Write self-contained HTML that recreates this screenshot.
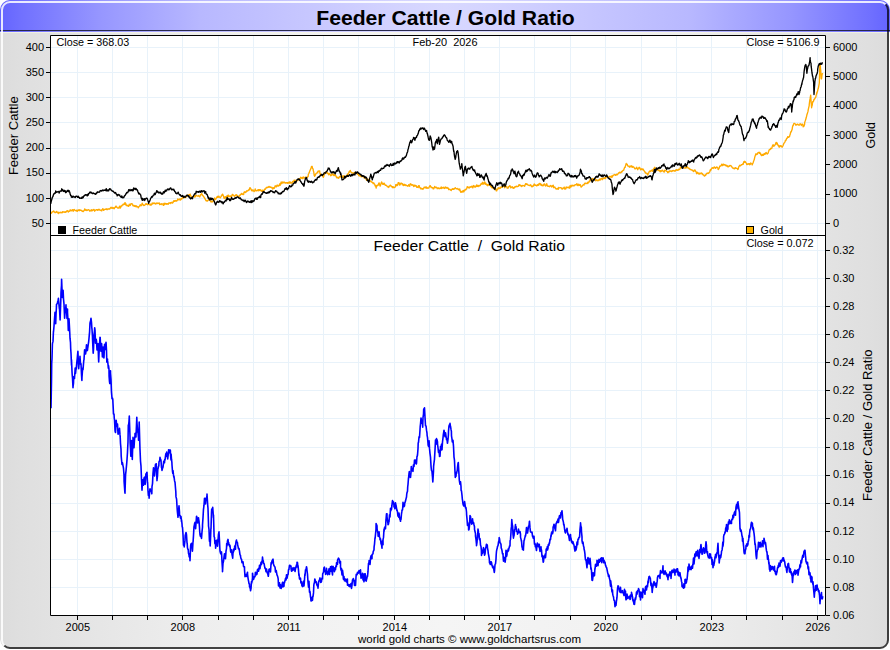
<!DOCTYPE html>
<html><head><meta charset="utf-8"><title>Feeder Cattle / Gold Ratio</title>
<style>html,body{margin:0;padding:0;background:#fff;width:890px;height:650px;overflow:hidden}svg{display:block}</style>
</head><body>
<svg width="890" height="650" viewBox="0 0 890 650">
<defs>
<linearGradient id="tg" x1="0" y1="0" x2="1" y2="0"><stop offset="0.0000" stop-color="#6464ff"/><stop offset="0.0225" stop-color="#7070ff"/><stop offset="0.1120" stop-color="#9696ff"/><stop offset="0.2250" stop-color="#b8b8ff"/><stop offset="0.3370" stop-color="#c6c6ff"/><stop offset="0.4500" stop-color="#d4d4ff"/><stop offset="0.5000" stop-color="#d8d8ff"/><stop offset="0.5500" stop-color="#d4d4ff"/><stop offset="0.6630" stop-color="#c6c6ff"/><stop offset="0.7750" stop-color="#b8b8ff"/><stop offset="0.8880" stop-color="#9696ff"/><stop offset="0.9775" stop-color="#7070ff"/><stop offset="1.0000" stop-color="#6464ff"/></linearGradient>
<linearGradient id="bg" x1="0" y1="0" x2="1" y2="0"><stop offset="0.0000" stop-color="#dcdcdc"/><stop offset="0.0225" stop-color="#dfdfdf"/><stop offset="0.1120" stop-color="#e6e6e6"/><stop offset="0.2250" stop-color="#eeeeee"/><stop offset="0.3370" stop-color="#f2f2f2"/><stop offset="0.4500" stop-color="#f4f4f4"/><stop offset="0.5000" stop-color="#f5f5f5"/><stop offset="0.5500" stop-color="#f4f4f4"/><stop offset="0.6630" stop-color="#f2f2f2"/><stop offset="0.7750" stop-color="#eeeeee"/><stop offset="0.8880" stop-color="#e6e6e6"/><stop offset="0.9775" stop-color="#dfdfdf"/><stop offset="1.0000" stop-color="#dcdcdc"/></linearGradient>
<clipPath id="fr"><rect x="0" y="0" width="890" height="650" rx="10"/></clipPath>
<clipPath id="pt"><rect x="51" y="36" width="774" height="199"/></clipPath>
<clipPath id="pb"><rect x="51" y="236" width="774" height="379"/></clipPath>
</defs>
<g clip-path="url(#fr)">
<rect x="0" y="0" width="889" height="649" rx="10" fill="url(#bg)"/>
<rect x="0" y="0" width="890" height="32" fill="url(#tg)"/>
<rect x="0" y="30" width="890" height="1" fill="#28284e"/>
<rect x="0" y="32" width="890" height="1" fill="#f6f6e4" opacity="0.7"/>
</g>
<path d="M4.34,645.66 A8,8 0 0 1 2,640 V10 A8,8 0 0 1 10,2 H880 A8,8 0 0 1 885.66,4.34" fill="none" stroke="#fff" stroke-opacity="0.85" stroke-width="2"/>
<path d="M885.66,4.34 A8,8 0 0 1 888,10 V640 A8,8 0 0 1 880,648 H10 A8,8 0 0 1 4.34,645.66" fill="none" stroke="#000" stroke-opacity="0.72" stroke-width="2"/>
<text x="445.5" y="24.6" text-anchor="middle" font-family="'Liberation Sans', sans-serif" font-size="19.6" font-weight="bold" textLength="258.5" lengthAdjust="spacingAndGlyphs">Feeder Cattle / Gold Ratio</text>
<rect x="50" y="35" width="776" height="581" fill="#fff"/>

<path d="M77.5,36V235M77.5,236V615M112.5,36V235M112.5,236V615M147.5,36V235M147.5,236V615M182.5,36V235M182.5,236V615M218.5,36V235M218.5,236V615M253.5,36V235M253.5,236V615M288.5,36V235M288.5,236V615M323.5,36V235M323.5,236V615M358.5,36V235M358.5,236V615M394.5,36V235M394.5,236V615M429.5,36V235M429.5,236V615M464.5,36V235M464.5,236V615M499.5,36V235M499.5,236V615M534.5,36V235M534.5,236V615M570.5,36V235M570.5,236V615M605.5,36V235M605.5,236V615M641.5,36V235M641.5,236V615M676.5,36V235M676.5,236V615M711.5,36V235M711.5,236V615M746.5,36V235M746.5,236V615M782.5,36V235M782.5,236V615M817.5,36V235M817.5,236V615M51,223.5H825M51,198.5H825M51,173.5H825M51,148.5H825M51,122.5H825M51,97.5H825M51,72.5H825M51,47.5H825M51,587.5H825M51,559.5H825M51,531.5H825M51,503.5H825M51,475.5H825M51,447.5H825M51,418.5H825M51,390.5H825M51,362.5H825M51,334.5H825M51,306.5H825M51,278.5H825M51,250.5H825" stroke="#e8f2fa" stroke-width="1" fill="none"/>
<path d="M50.7,212.0L51.2,213.3L51.7,212.7L52.2,211.9L52.5,211.7L52.7,211.7L53.2,211.4L53.7,211.0L54.2,211.9L54.7,212.3L55.2,212.7L55.2,212.1L55.7,212.3L56.2,212.3L56.7,211.4L57.2,212.1L57.7,212.3L58.2,213.6L58.7,212.9L58.8,212.2L59.2,212.9L59.7,212.6L60.2,212.9L60.7,212.2L61.2,212.3L61.7,212.8L62.2,212.8L62.4,212.2L62.7,211.6L63.2,212.0L63.7,211.9L64.2,212.2L64.7,212.0L65.2,212.4L65.7,211.9L66.0,211.6L66.2,212.0L66.7,211.0L67.2,210.8L67.7,210.6L68.2,212.0L68.7,211.3L69.2,211.4L69.6,211.0L69.7,210.9L70.2,209.8L70.7,210.8L71.2,210.4L71.7,210.8L72.2,209.8L72.7,209.7L73.2,210.4L73.2,211.3L73.7,210.0L74.2,209.4L74.7,209.9L75.2,210.6L75.7,210.7L76.2,210.8L76.7,210.1L76.8,210.6L77.2,211.3L77.7,210.7L78.2,209.8L78.7,209.8L79.2,210.7L79.7,209.7L80.2,210.2L80.4,210.4L80.7,210.2L81.2,210.3L81.7,210.4L82.2,211.4L82.7,211.2L83.2,211.6L83.7,210.9L84.0,210.4L84.2,210.6L84.7,208.9L85.2,209.7L85.7,210.3L86.2,209.7L86.7,210.5L87.2,210.3L87.6,210.1L87.7,209.8L88.2,209.7L88.7,209.9L89.2,210.2L89.7,211.1L90.2,210.9L90.7,210.7L91.1,210.7L91.2,209.6L91.7,210.8L92.2,210.0L92.7,210.5L93.2,209.8L93.7,209.5L94.2,209.7L94.7,211.2L94.7,210.7L95.2,210.4L95.7,210.2L96.2,209.6L96.7,209.9L97.2,209.7L97.7,210.4L98.2,209.5L98.3,210.0L98.7,209.4L99.2,209.3L99.7,210.0L100.2,210.0L100.7,210.3L101.2,210.7L101.7,210.9L101.9,209.6L102.2,209.9L102.7,208.7L103.2,209.0L103.7,210.4L104.2,209.8L104.7,209.4L105.2,209.4L105.5,209.3L105.7,209.3L106.2,208.7L106.7,209.5L107.2,209.7L107.7,209.0L108.2,209.0L108.7,209.1L109.1,208.8L109.2,209.1L109.7,209.0L110.2,208.4L110.7,207.5L111.2,207.3L111.7,208.1L112.2,208.4L112.7,208.0L112.7,207.5L113.2,207.6L113.7,208.5L114.2,208.7L114.7,207.6L115.2,207.4L115.7,206.4L116.2,206.1L116.3,207.0L116.7,206.9L117.2,207.5L117.7,208.0L118.2,207.9L118.7,208.1L119.2,207.1L119.7,206.1L119.9,206.6L120.2,208.1L120.7,207.3L121.2,205.8L121.7,205.8L121.7,206.1L122.2,205.1L122.7,205.1L123.2,204.1L123.5,204.2L123.7,204.6L124.2,203.8L124.7,204.2L124.9,202.7L125.2,202.7L125.7,204.5L126.0,203.9L126.2,205.5L126.7,205.5L127.1,205.2L127.2,205.3L127.7,205.8L128.2,206.1L128.2,206.0L128.7,206.4L129.2,204.3L129.3,205.0L129.7,204.4L130.2,205.5L130.7,204.0L131.2,203.8L131.7,203.6L132.2,203.8L132.5,204.8L132.7,205.1L133.2,206.0L133.7,205.3L134.2,205.6L134.3,205.7L134.7,206.4L135.2,205.8L135.7,206.5L136.1,205.7L136.2,206.8L136.7,206.6L137.2,206.5L137.7,206.8L137.9,206.9L138.2,207.9L138.7,207.0L139.2,206.3L139.7,206.2L139.7,205.8L140.2,204.7L140.7,205.6L141.2,205.2L141.5,205.6L141.7,205.0L142.2,203.2L142.7,204.2L143.2,204.6L143.3,205.2L143.7,205.5L144.2,205.3L144.7,205.3L145.1,204.7L145.2,204.7L145.7,203.8L146.2,204.4L146.7,203.8L146.9,204.1L147.2,204.4L147.7,204.8L148.2,203.7L148.7,204.4L148.7,204.1L149.2,204.5L149.7,204.8L150.2,204.5L150.5,204.1L150.7,205.2L151.2,205.0L151.7,204.5L152.2,202.9L152.3,203.3L152.7,203.8L153.2,203.7L153.7,203.0L154.1,203.2L154.2,202.9L154.7,203.5L155.2,203.6L155.7,204.0L155.9,203.2L156.2,203.7L156.7,203.1L157.2,202.9L157.7,203.4L157.7,203.6L158.2,203.3L158.7,203.1L159.2,202.9L159.5,203.5L159.7,204.5L160.2,204.4L160.7,204.1L161.2,204.5L161.3,203.7L161.7,204.1L162.2,204.1L162.7,203.9L163.1,204.0L163.2,205.2L163.7,205.2L164.2,203.2L164.7,204.5L164.9,203.9L165.2,203.7L165.7,203.5L166.2,204.0L166.7,203.6L166.7,204.3L167.2,203.9L167.7,203.7L168.2,204.2L168.4,203.7L168.7,203.1L169.2,202.8L169.7,202.8L170.2,203.1L170.2,203.6L170.7,202.7L171.2,202.8L171.7,202.4L172.0,202.2L172.2,203.0L172.7,203.0L173.2,202.1L173.7,201.2L173.8,200.9L174.2,200.6L174.7,201.3L175.2,200.7L175.6,200.5L175.7,201.0L176.2,200.8L176.7,201.1L177.2,200.4L177.4,199.9L177.7,199.0L178.2,199.9L178.7,199.4L179.2,199.2L179.2,199.6L179.7,199.0L180.2,200.1L180.7,199.9L181.0,198.9L181.2,198.5L181.7,199.1L182.2,198.0L182.7,197.6L182.8,198.1L183.2,197.9L183.7,197.7L184.2,197.6L184.6,197.1L184.7,196.9L185.2,197.6L185.7,197.4L186.2,196.6L186.4,196.8L186.7,195.5L187.2,195.5L187.7,195.6L188.2,195.7L188.2,195.1L188.7,194.8L189.2,195.0L189.3,194.6L189.7,195.4L190.2,194.1L190.4,195.6L190.7,195.4L191.2,196.7L191.7,197.5L191.8,197.4L192.2,197.1L192.7,197.1L193.2,196.5L193.6,196.4L193.7,196.3L194.2,195.7L194.7,197.0L195.2,196.8L195.4,195.5L195.7,196.1L196.2,195.3L196.7,195.7L197.2,195.8L197.2,196.1L197.7,196.2L198.2,196.1L198.7,195.4L199.0,196.2L199.2,196.2L199.7,196.9L200.2,195.8L200.4,195.1L200.7,194.5L201.2,194.7L201.7,193.6L201.7,193.8L202.2,194.7L202.7,195.5L203.0,195.9L203.2,195.9L203.7,196.4L204.0,197.4L204.2,197.5L204.7,198.1L205.2,199.2L205.5,199.6L205.7,200.2L206.2,200.9L206.7,200.7L206.9,200.9L207.2,201.1L207.7,200.7L208.2,200.4L208.3,200.0L208.7,199.4L209.2,198.8L209.3,199.0L209.7,199.1L210.2,199.4L210.4,200.9L210.7,201.8L211.2,201.5L211.5,202.0L211.7,201.2L212.2,201.7L212.6,201.9L212.7,201.2L213.2,200.5L213.7,200.5L213.7,200.8L214.2,200.0L214.7,198.0L214.7,198.7L215.2,199.0L215.7,199.5L215.8,198.8L216.2,198.3L216.7,197.6L216.9,197.4L217.2,196.4L217.7,197.4L218.0,197.1L218.2,196.2L218.7,197.2L219.1,196.3L219.2,197.1L219.7,197.1L220.1,197.6L220.2,197.9L220.7,197.0L221.2,196.7L221.2,195.9L221.7,195.4L222.2,194.5L222.3,194.4L222.7,194.2L223.2,195.7L223.4,196.0L223.7,197.1L224.2,198.6L224.4,197.2L224.7,197.8L225.2,196.7L225.5,197.1L225.7,198.2L226.2,197.4L226.6,196.2L226.7,196.6L227.2,195.7L227.7,196.8L227.7,195.9L228.2,195.0L228.7,196.2L228.8,196.8L229.2,196.5L229.7,196.4L229.8,195.9L230.2,196.0L230.7,196.3L230.9,196.2L231.2,197.1L231.7,196.3L232.0,195.2L232.2,194.7L232.7,194.4L233.1,194.9L233.2,195.3L233.7,195.4L234.2,195.8L234.2,196.3L234.7,196.0L235.2,195.8L235.2,195.8L235.7,195.1L236.2,194.6L236.3,195.3L236.7,195.0L237.2,195.3L237.4,195.9L237.7,196.0L238.2,196.9L238.5,196.3L238.7,197.1L239.2,196.4L239.6,195.1L239.7,195.7L240.2,195.1L240.6,194.4L240.7,194.3L241.2,194.4L241.7,193.4L241.7,194.0L242.2,193.9L242.7,194.4L242.8,194.0L243.2,194.6L243.7,194.4L243.9,192.7L244.2,192.0L244.7,192.3L244.9,191.8L245.2,192.0L245.7,192.6L246.0,192.0L246.2,191.6L246.7,190.8L247.1,191.1L247.2,191.0L247.7,190.8L248.2,190.4L248.2,190.6L248.7,189.8L249.2,190.0L249.3,189.6L249.7,188.0L250.0,187.7L250.2,187.8L250.7,188.7L251.2,189.6L251.4,190.2L251.7,190.7L252.1,190.9L252.2,190.0L252.7,190.7L253.2,190.0L253.2,190.8L253.7,191.0L254.2,191.5L254.3,191.1L254.7,190.8L255.2,188.9L255.4,190.3L255.7,190.7L256.2,190.5L256.4,190.9L256.7,190.6L257.2,190.4L257.5,190.1L257.7,190.5L258.2,189.6L258.6,190.8L258.7,189.9L259.2,189.6L259.7,190.5L259.7,189.9L260.2,189.6L260.7,190.6L260.8,190.9L261.2,190.4L261.7,190.7L261.8,191.4L262.2,190.5L262.7,190.2L262.9,191.4L263.2,190.8L263.7,191.1L264.0,190.1L264.2,190.2L264.7,189.0L265.1,189.2L265.2,189.4L265.7,188.6L266.2,188.0L266.2,187.5L266.7,187.5L267.2,187.7L267.2,187.4L267.7,187.2L268.2,187.4L268.3,187.2L268.7,186.8L269.2,186.4L269.4,187.0L269.7,187.1L270.2,187.3L270.5,187.0L270.7,186.9L271.2,187.4L271.6,187.8L271.7,187.5L272.2,187.5L272.6,188.7L272.7,189.0L273.2,188.7L273.7,187.6L273.7,188.0L274.2,188.4L274.7,187.1L274.8,187.1L275.2,185.8L275.7,185.9L275.9,186.4L276.2,187.0L276.7,186.1L276.9,185.4L277.2,185.1L277.7,186.0L278.0,185.4L278.2,186.1L278.7,185.8L279.1,185.2L279.2,185.6L279.7,184.1L280.2,183.6L280.2,185.2L280.7,183.7L281.2,182.0L281.3,183.1L281.7,183.6L282.2,183.1L282.3,183.0L282.7,181.9L283.2,182.7L283.4,182.8L283.7,182.3L284.2,182.1L284.5,182.2L284.7,182.9L285.2,182.8L285.6,183.1L285.7,182.8L286.2,182.6L286.7,183.0L286.7,182.6L287.2,182.6L287.7,183.2L287.7,183.2L288.2,182.4L288.7,183.0L288.8,182.4L289.2,183.2L289.7,182.3L289.9,181.6L290.2,182.4L290.7,183.1L291.0,182.8L291.2,182.9L291.7,183.1L292.0,183.2L292.2,182.1L292.7,181.4L293.1,182.0L293.2,182.1L293.7,181.4L294.2,180.1L294.2,181.4L294.7,181.1L295.2,180.3L295.3,181.2L295.7,181.8L296.2,181.6L296.4,180.9L296.7,181.2L297.2,179.9L297.4,179.9L297.7,180.0L298.2,180.1L298.5,179.8L298.7,179.1L299.2,178.8L299.6,179.0L299.7,178.8L300.2,178.2L300.7,178.1L300.7,177.2L301.2,177.9L301.7,178.0L301.8,178.4L302.2,177.4L302.7,177.8L302.8,178.7L303.2,177.4L303.7,177.0L303.9,177.5L304.2,177.9L304.7,177.8L305.0,177.6L305.2,177.6L305.7,177.4L306.1,177.6L306.2,178.3L306.7,178.1L307.1,177.1L307.2,177.6L307.7,176.8L308.2,176.3L308.2,174.8L308.7,173.8L309.2,172.6L309.3,172.4L309.7,171.3L310.2,170.0L310.4,169.8L310.7,169.1L311.1,167.9L311.2,167.2L311.7,166.4L311.8,166.9L312.2,166.5L312.5,168.3L312.7,168.3L313.2,169.6L313.3,170.7L313.7,171.8L314.0,173.8L314.2,175.5L314.7,176.3L315.2,175.3L315.4,174.9L315.7,173.9L316.1,173.8L316.2,173.4L316.7,173.1L316.9,173.0L317.2,172.6L317.6,171.7L317.7,172.8L318.2,170.9L318.3,171.1L318.7,171.2L319.0,171.1L319.2,171.0L319.7,171.0L319.7,172.1L320.2,174.2L320.4,173.8L320.7,175.4L321.2,174.8L321.2,174.1L321.7,175.0L321.9,175.1L322.2,175.8L322.6,175.8L322.7,174.7L323.2,177.2L323.3,177.3L323.7,176.6L324.0,175.1L324.2,174.9L324.7,173.2L324.8,173.9L325.2,173.2L325.5,172.4L325.7,172.0L326.2,171.8L326.2,172.0L326.7,172.3L326.9,172.9L327.2,173.3L327.6,173.3L327.7,172.8L328.2,174.0L328.7,174.8L328.7,174.2L329.2,173.3L329.7,173.6L329.8,174.3L330.2,174.7L330.7,175.8L330.9,175.1L331.2,175.5L331.7,175.2L332.0,174.0L332.2,173.8L332.7,174.3L333.0,174.8L333.2,174.2L333.7,175.6L334.1,175.1L334.2,175.7L334.7,174.8L335.2,175.0L335.2,174.6L335.7,175.9L336.2,176.2L336.3,176.9L336.7,177.7L337.2,177.6L337.3,177.7L337.7,177.2L338.2,177.9L338.4,177.9L338.7,178.2L339.2,177.2L339.5,176.7L339.7,176.4L340.2,176.9L340.6,176.2L340.7,177.0L341.2,175.8L341.7,175.9L341.7,176.6L342.2,177.2L342.7,176.1L342.7,175.9L343.2,177.6L343.7,177.6L343.8,175.8L344.2,176.2L344.7,178.1L344.9,176.9L345.2,177.4L345.7,175.9L346.0,177.0L346.2,176.4L346.7,176.6L347.1,176.2L347.2,174.5L347.7,173.9L348.1,174.8L348.2,173.7L348.7,173.0L349.2,171.5L349.2,172.5L349.7,171.6L350.2,170.4L350.3,171.0L350.7,172.1L351.2,172.1L351.4,172.1L351.7,172.8L352.2,172.9L352.4,173.0L352.7,173.2L353.2,173.0L353.5,172.9L353.7,173.2L354.2,173.2L354.6,172.8L354.7,172.4L355.0,172.8L355.2,173.2L355.7,173.5L356.2,173.0L356.7,172.7L356.8,173.4L357.2,173.7L357.7,174.4L358.2,173.7L358.6,174.5L358.7,175.6L359.2,175.8L359.7,175.5L360.2,176.0L360.4,175.1L360.7,175.0L361.2,176.8L361.7,175.7L362.2,176.1L362.2,176.5L362.7,176.4L363.2,176.6L363.7,176.5L364.0,177.8L364.2,177.6L364.7,177.8L365.2,177.2L365.7,178.6L365.8,178.8L366.2,179.3L366.7,180.4L367.2,180.2L367.6,179.6L367.7,179.0L368.2,179.7L368.7,180.9L369.2,180.1L369.4,180.5L369.7,180.5L370.2,181.3L370.7,180.9L371.2,181.5L371.2,182.0L371.7,182.0L372.2,182.1L372.7,182.7L373.0,182.6L373.2,183.6L373.7,182.9L374.1,183.6L374.2,183.9L374.7,184.3L375.1,185.8L375.2,185.1L375.7,186.3L376.2,188.1L376.2,187.3L376.7,185.5L377.2,185.5L377.3,185.4L377.7,185.7L378.2,184.5L378.4,185.0L378.7,183.1L379.2,183.0L379.4,184.1L379.7,185.0L380.2,186.1L380.5,185.4L380.7,184.5L381.2,183.1L381.6,181.9L381.7,182.6L382.2,183.7L382.7,183.3L382.7,184.3L383.2,183.4L383.7,184.3L383.8,184.1L384.2,183.2L384.7,184.3L384.8,184.4L385.2,185.3L385.7,184.9L385.9,185.4L386.2,185.3L386.7,185.8L387.0,185.8L387.2,186.4L387.7,186.9L388.1,186.7L388.2,186.6L388.7,187.5L389.2,186.1L389.2,185.8L389.7,186.1L390.2,185.7L390.2,185.1L390.7,185.4L391.2,185.9L391.3,186.2L391.7,186.7L392.2,186.7L392.4,187.6L392.7,186.6L393.2,187.6L393.5,186.9L393.7,187.3L394.2,187.5L394.6,187.5L394.7,187.3L395.2,187.1L395.6,186.2L395.7,184.7L396.2,185.3L396.7,184.5L396.7,185.5L397.2,185.5L397.7,185.0L397.8,184.5L398.2,182.7L398.7,182.6L398.9,183.8L399.2,183.0L399.7,185.1L399.9,185.0L400.2,184.6L400.7,183.3L401.0,183.1L401.2,183.1L401.7,183.4L402.1,184.1L402.2,184.6L402.7,183.8L403.2,185.0L403.2,185.6L403.7,184.7L404.2,185.1L404.3,185.3L404.7,184.3L405.2,185.0L405.3,184.7L405.7,185.5L406.2,185.6L406.4,185.2L406.7,185.6L407.2,185.7L407.5,185.6L407.7,186.2L408.2,185.8L408.6,185.5L408.7,184.6L409.2,185.9L409.7,186.3L409.7,186.2L410.2,184.0L410.7,183.8L410.7,184.0L411.2,184.3L411.7,185.2L411.8,185.2L412.2,184.8L412.7,184.7L412.9,185.1L413.2,185.2L413.7,186.6L414.0,185.1L414.2,185.1L414.7,186.1L415.0,185.2L415.2,185.6L415.7,186.1L416.1,185.9L416.2,185.8L416.7,187.3L417.2,187.0L417.2,187.0L417.7,187.1L418.2,187.5L418.3,186.2L418.7,185.6L419.2,185.7L419.4,186.9L419.7,187.4L420.2,188.1L420.4,187.8L420.7,188.9L421.2,188.6L421.5,188.6L421.7,188.3L422.2,189.0L422.6,188.6L422.7,189.2L423.2,189.0L423.7,188.4L423.7,188.3L424.2,187.1L424.7,187.6L424.8,187.4L425.2,187.4L425.7,187.0L425.8,188.0L426.2,187.0L426.7,187.4L426.9,188.4L427.2,188.1L427.7,188.1L428.0,187.8L428.2,188.1L428.7,188.1L429.1,187.3L429.2,187.0L429.7,185.9L430.1,186.0L430.2,185.6L430.7,186.5L431.2,187.6L431.2,187.2L431.7,187.2L432.2,187.7L432.3,187.7L432.7,187.6L433.2,188.9L433.4,188.6L433.7,188.8L434.2,187.5L434.5,187.1L434.7,186.4L435.2,187.7L435.5,187.6L435.7,187.5L436.2,187.2L436.6,187.3L436.7,187.4L437.2,188.7L437.7,188.2L438.2,187.9L438.7,188.5L438.8,188.0L439.2,188.6L439.7,188.7L439.9,188.1L440.2,188.3L440.7,188.4L440.9,187.9L441.2,187.0L441.7,188.5L442.0,188.3L442.2,187.9L442.7,187.7L443.1,187.7L443.2,187.2L443.7,187.7L444.2,188.5L444.2,188.3L444.7,188.3L445.2,187.0L445.2,187.7L445.7,187.2L446.2,188.1L446.3,187.8L446.7,187.7L447.2,187.5L447.4,188.2L447.7,188.0L448.2,188.0L448.5,188.8L448.7,189.5L449.2,189.1L449.6,189.5L449.7,189.4L450.2,189.4L450.6,190.0L450.7,190.1L451.2,190.5L451.7,189.5L451.7,189.5L452.2,189.0L452.7,189.4L452.8,188.6L453.2,188.8L453.7,189.4L453.9,189.3L454.2,188.8L454.7,188.1L455.0,188.1L455.2,187.7L455.7,188.3L456.0,188.6L456.2,188.9L456.7,188.9L457.1,188.7L457.2,188.4L457.7,189.0L458.2,189.0L458.2,189.3L458.7,189.2L459.2,190.1L459.3,189.3L459.7,189.0L460.2,191.0L460.3,190.9L460.7,192.2L461.2,191.5L461.4,191.6L461.7,192.2L462.2,192.0L462.5,191.0L462.7,191.9L463.2,191.4L463.6,190.4L463.7,191.8L464.2,191.0L464.7,190.6L464.7,190.3L465.2,189.4L465.7,189.9L465.7,189.9L466.2,189.1L466.7,188.9L466.8,188.4L467.2,186.6L467.7,187.4L467.9,187.0L468.2,187.2L468.7,187.7L469.0,187.1L469.2,188.0L469.7,187.5L470.1,186.8L470.2,186.9L470.7,187.2L471.1,187.1L471.2,186.5L471.7,186.5L472.2,186.2L472.2,187.2L472.7,187.9L473.2,186.5L473.3,186.4L473.7,185.5L474.2,186.1L474.4,186.9L474.7,186.9L475.2,187.2L475.4,186.1L475.7,186.5L476.2,186.6L476.5,185.8L476.7,185.0L477.2,186.4L477.6,185.4L477.7,186.1L478.2,186.6L478.7,185.4L478.7,186.0L479.2,186.0L479.7,185.4L479.8,185.6L480.2,185.6L480.7,184.5L480.8,184.6L481.2,183.5L481.7,183.6L481.9,184.1L482.2,183.3L482.7,182.3L483.0,183.5L483.2,184.2L483.7,183.2L484.1,183.3L484.2,182.9L484.7,181.9L485.2,184.2L485.2,184.4L485.7,183.2L486.2,184.1L486.2,183.9L486.7,185.1L487.2,185.2L487.3,184.5L487.7,185.7L488.2,185.1L488.4,184.9L488.7,184.4L489.2,184.1L489.5,185.0L489.7,185.3L490.2,184.8L490.6,185.9L490.7,186.6L491.2,186.0L491.6,186.7L491.7,187.7L492.2,187.1L492.7,187.7L492.7,187.7L493.2,188.3L493.7,188.6L493.8,188.5L494.2,188.9L494.7,188.9L494.9,188.4L495.2,188.6L495.7,188.4L495.9,189.3L496.2,190.8L496.7,190.9L497.0,189.4L497.2,189.8L497.7,189.3L498.1,188.5L498.2,187.7L498.7,188.6L499.2,188.2L499.2,188.1L499.7,188.0L500.2,188.4L500.3,187.3L500.7,187.7L501.2,186.9L501.3,187.1L501.7,187.3L502.2,187.3L502.4,186.4L502.7,186.6L503.2,186.4L503.5,186.3L503.7,185.9L504.2,185.5L504.6,186.8L504.7,187.8L505.0,187.1L505.2,186.9L505.7,186.3L506.2,186.4L506.7,186.4L506.8,187.3L507.2,188.1L507.7,188.2L508.2,188.0L508.6,186.8L508.7,187.2L509.2,186.4L509.7,185.8L510.2,186.4L510.4,186.2L510.7,187.9L511.2,187.5L511.7,187.1L512.2,187.4L512.2,186.7L512.7,187.4L513.2,188.4L513.7,187.9L514.0,187.5L514.2,188.0L514.7,186.9L515.2,187.1L515.7,186.5L515.8,186.8L516.2,186.2L516.7,186.5L517.2,186.6L517.6,186.6L517.7,186.4L518.2,186.4L518.7,185.0L519.2,184.8L519.4,185.6L519.7,184.8L520.2,185.4L520.7,185.3L521.2,186.2L521.2,186.5L521.7,185.8L522.2,186.1L522.7,185.3L523.0,185.3L523.2,185.6L523.7,185.7L524.2,185.7L524.7,186.3L524.8,185.1L525.2,184.9L525.7,183.6L526.2,184.5L526.6,184.2L526.7,183.8L527.2,184.1L527.7,184.9L528.2,185.0L528.4,185.2L528.7,185.3L529.2,185.3L529.7,185.5L530.2,185.4L530.2,185.0L530.7,184.8L531.2,186.0L531.7,186.7L532.0,186.5L532.2,186.7L532.7,185.9L533.2,186.2L533.7,184.9L533.8,184.9L534.2,183.9L534.7,185.4L535.2,185.3L535.6,185.4L535.7,185.0L536.2,185.4L536.7,185.9L537.2,185.7L537.4,184.8L537.7,185.4L538.2,184.4L538.7,185.2L539.2,183.9L539.2,183.4L539.7,183.8L540.2,183.5L540.7,185.0L541.0,184.6L541.2,184.3L541.7,185.4L542.2,185.8L542.7,185.0L542.8,185.1L543.2,185.7L543.7,184.6L544.2,183.9L544.6,183.9L544.7,184.7L545.2,185.6L545.7,186.1L546.2,185.4L546.3,184.6L546.7,183.7L547.2,185.5L547.7,186.2L548.1,186.1L548.2,186.2L548.7,186.2L549.2,186.5L549.7,186.7L549.9,186.4L550.2,185.9L550.7,185.4L551.2,186.2L551.7,186.5L551.7,187.1L552.2,186.6L552.7,185.6L553.2,185.2L553.5,186.8L553.7,187.7L554.2,187.3L554.7,187.0L555.2,187.5L555.3,187.9L555.7,188.8L556.2,188.9L556.7,189.1L557.1,188.4L557.2,188.4L557.7,188.5L558.2,189.4L558.7,187.4L558.9,187.8L559.2,187.9L559.7,187.8L560.2,187.7L560.7,187.6L560.7,187.6L561.2,187.9L561.7,188.8L562.2,188.3L562.5,188.4L562.7,189.0L563.2,188.1L563.7,187.9L564.2,187.1L564.3,188.1L564.7,189.1L565.2,188.2L565.7,189.0L566.1,188.0L566.2,187.0L566.7,187.4L567.2,187.5L567.7,187.6L567.9,187.4L568.2,187.1L568.7,187.7L569.2,187.4L569.7,188.2L569.7,187.0L570.2,185.4L570.7,187.0L571.2,186.9L571.5,185.9L571.7,185.4L572.2,185.2L572.7,186.0L573.2,185.4L573.3,185.9L573.7,185.5L574.2,185.9L574.7,185.1L575.1,184.7L575.2,184.9L575.7,184.7L576.2,185.0L576.7,183.8L576.9,184.2L577.2,183.9L577.7,185.6L578.2,185.5L578.7,184.3L578.7,184.1L579.2,185.1L579.7,185.4L580.2,184.6L580.5,185.4L580.7,186.0L581.2,187.1L581.7,186.5L582.2,185.8L582.3,185.9L582.7,185.1L583.2,185.0L583.7,184.6L584.1,185.0L584.2,184.1L584.7,183.4L585.2,183.1L585.7,183.6L585.9,183.8L586.2,183.4L586.7,183.3L587.2,183.2L587.7,182.3L587.7,183.6L588.2,182.7L588.7,182.1L589.2,181.1L589.5,181.1L589.7,181.9L590.2,179.3L590.7,180.1L591.2,179.3L591.3,179.9L591.7,179.8L592.2,179.0L592.7,178.5L593.1,179.3L593.2,180.8L593.7,179.3L594.2,178.9L594.7,178.8L594.9,178.9L595.2,179.6L595.7,180.8L596.2,180.2L596.7,179.8L596.7,179.7L597.2,180.7L597.7,180.3L598.2,180.5L598.5,180.0L598.7,180.6L599.2,179.9L599.7,179.0L600.2,180.1L600.3,178.8L600.7,178.8L601.2,178.7L601.7,178.3L602.1,179.4L602.2,179.7L602.7,178.9L603.2,178.2L603.7,178.5L603.9,178.5L604.2,178.2L604.7,177.7L605.2,178.7L605.7,178.0L605.7,177.9L606.2,176.9L606.7,176.7L607.2,177.4L607.5,177.1L607.7,177.4L608.2,177.1L608.7,177.1L609.2,177.1L609.3,176.7L609.7,176.4L610.2,176.4L610.7,176.7L611.1,177.0L611.2,177.6L611.7,175.9L612.2,177.1L612.7,176.1L612.9,175.4L613.2,175.3L613.7,175.0L614.2,174.9L614.7,174.6L614.7,174.5L615.2,175.0L615.7,175.4L616.2,174.5L616.5,174.2L616.7,174.8L617.2,174.8L617.7,174.1L618.2,173.7L618.3,173.4L618.7,172.8L619.2,172.9L619.7,172.1L620.1,172.8L620.2,172.9L620.7,172.9L621.2,172.2L621.7,171.5L621.9,172.0L622.2,171.4L622.7,170.8L623.2,170.4L623.7,170.2L623.7,170.1L624.2,168.5L624.7,167.2L625.1,167.4L625.2,166.9L625.7,165.1L626.2,163.5L626.2,164.0L626.7,164.6L627.2,164.5L627.2,164.2L627.7,165.9L628.2,166.2L628.3,166.2L628.7,166.1L629.2,166.2L629.4,167.2L629.7,166.7L630.2,166.2L630.7,166.9L630.8,166.8L631.2,165.7L631.7,166.8L632.2,167.0L632.6,167.3L632.7,166.3L633.2,166.7L633.7,167.1L634.2,167.4L634.4,168.0L634.7,168.6L635.2,168.9L635.7,168.5L636.2,168.4L636.2,167.7L636.7,167.2L637.2,168.4L637.7,169.7L638.0,169.1L638.2,168.6L638.7,168.1L639.2,167.3L639.5,168.2L639.7,167.6L640.2,169.0L640.7,169.9L640.9,169.1L641.2,169.2L641.7,168.8L642.2,169.8L642.3,169.6L642.7,169.0L643.2,169.2L643.7,170.3L643.8,170.4L644.2,171.0L644.7,171.6L645.2,172.8L645.2,172.0L645.7,173.0L646.2,173.5L646.7,173.3L646.7,173.2L647.2,173.5L647.7,175.1L648.1,174.0L648.2,173.5L648.7,173.0L649.2,171.6L649.5,171.5L649.7,171.1L650.2,170.9L650.7,171.5L651.0,170.8L651.2,170.5L651.7,170.5L652.2,170.0L652.4,170.2L652.7,171.4L653.2,169.7L653.7,168.8L653.9,168.9L654.2,168.1L654.7,167.3L655.0,167.5L655.2,168.7L655.7,170.2L656.2,169.7L656.7,168.5L656.8,169.5L657.2,169.8L657.7,169.7L658.2,170.6L658.6,170.3L658.7,170.3L659.2,170.0L659.7,171.1L660.2,171.7L660.4,171.0L660.7,170.6L661.2,171.5L661.7,170.7L662.2,170.6L662.2,170.1L662.7,170.5L663.2,171.5L663.7,171.5L664.0,171.8L664.2,172.1L664.7,170.3L665.2,170.6L665.7,170.6L665.8,170.3L666.2,171.0L666.7,171.3L667.2,171.4L667.6,172.1L667.7,172.6L668.2,172.5L668.7,171.5L669.2,171.2L669.4,171.7L669.7,171.0L670.2,171.0L670.7,170.9L671.2,171.1L671.2,171.6L671.7,171.2L672.2,170.6L672.7,171.1L673.0,170.4L673.2,170.5L673.7,170.6L674.2,171.1L674.7,171.0L674.8,170.9L675.2,171.1L675.7,170.1L676.2,169.7L676.6,169.7L676.7,170.1L677.2,170.4L677.7,170.0L678.2,169.5L678.4,170.0L678.7,169.3L679.2,169.6L679.7,169.4L680.2,168.5L680.2,167.9L680.7,167.1L681.2,167.5L681.7,167.8L682.0,167.6L682.2,167.5L682.7,167.7L683.2,166.3L683.7,167.4L683.8,167.6L684.2,167.9L684.7,168.0L685.2,167.8L685.6,168.1L685.7,167.6L686.2,167.3L686.7,167.7L687.2,166.7L687.4,167.5L687.7,167.9L688.2,168.0L688.7,167.9L689.2,168.8L689.2,168.6L689.7,168.9L690.2,169.5L690.7,169.5L691.0,169.6L691.2,169.8L691.7,170.0L692.2,170.1L692.7,170.7L692.8,170.2L693.2,170.9L693.7,171.5L694.2,170.7L694.6,170.7L694.7,169.9L695.2,170.3L695.7,171.5L696.2,171.9L696.3,172.5L696.7,173.7L697.2,172.3L697.7,172.4L698.1,172.8L698.2,173.7L698.7,173.9L699.2,174.1L699.7,173.2L699.9,173.8L700.2,173.3L700.7,173.5L701.2,173.1L701.7,173.0L701.7,173.7L702.2,173.4L702.7,174.4L703.2,174.9L703.5,174.8L703.7,175.2L704.2,175.8L704.7,176.1L705.2,174.9L705.3,175.2L705.7,175.3L706.2,174.2L706.7,173.3L707.1,173.2L707.2,173.6L707.7,173.1L708.2,173.5L708.7,173.2L708.9,172.7L709.2,172.3L709.7,172.1L710.2,170.0L710.7,169.5L710.7,170.5L711.2,169.3L711.7,168.5L712.2,167.7L712.5,167.6L712.7,168.2L713.2,168.5L713.7,167.5L714.2,167.2L714.3,166.9L714.7,167.9L715.2,167.4L715.7,168.3L716.1,167.4L716.2,167.6L716.7,167.0L717.2,167.4L717.7,167.5L717.9,168.7L718.2,169.6L718.7,169.0L719.2,168.2L719.7,166.3L719.7,166.6L720.2,165.9L720.7,166.0L721.2,165.6L721.5,164.7L721.7,164.2L722.2,164.5L722.7,165.6L723.2,165.1L723.3,164.1L723.7,164.3L724.2,164.7L724.7,165.0L725.1,164.6L725.2,165.4L725.7,165.6L726.2,165.8L726.7,165.3L726.9,165.6L727.2,166.5L727.7,166.0L728.2,166.9L728.7,166.5L728.7,166.2L729.2,166.4L729.7,165.7L730.2,165.5L730.5,165.7L730.7,165.7L731.2,166.0L731.7,166.7L732.2,167.3L732.3,167.6L732.7,168.1L733.2,168.2L733.7,168.4L734.1,168.2L734.2,168.9L734.7,168.7L735.2,167.8L735.7,167.6L735.9,168.3L736.2,168.3L736.7,168.4L737.2,168.6L737.7,169.1L737.7,169.6L738.2,169.0L738.7,166.9L739.2,166.2L739.5,165.7L739.7,165.3L740.2,165.9L740.7,165.6L741.2,165.1L741.3,164.7L741.7,164.9L742.2,164.5L742.7,164.2L743.1,163.5L743.2,164.3L743.7,161.9L744.2,161.7L744.7,161.3L744.9,162.4L745.2,161.7L745.7,162.4L746.2,163.0L746.7,163.8L746.7,164.6L747.2,164.5L747.7,164.1L748.2,163.7L748.5,163.7L748.7,164.2L749.2,163.6L749.7,164.8L750.2,164.4L750.3,164.2L750.7,162.9L751.2,163.7L751.7,163.8L752.1,164.5L752.2,164.9L752.7,163.6L753.2,162.5L753.7,160.9L753.9,160.2L754.2,159.8L754.7,157.4L755.2,155.8L755.7,154.6L755.7,153.9L756.2,153.9L756.7,154.5L757.2,153.7L757.5,154.1L757.7,152.9L758.2,152.7L758.7,152.4L759.2,153.1L759.3,153.4L759.7,152.3L760.2,153.1L760.7,154.6L761.1,154.2L761.2,155.3L761.7,155.6L762.2,155.4L762.7,154.4L762.9,154.7L763.2,155.4L763.7,154.3L764.2,153.5L764.7,153.8L764.7,154.5L765.2,154.1L765.7,152.8L766.2,152.5L766.5,153.2L766.7,153.7L767.2,154.0L767.7,153.5L768.2,153.0L768.3,152.2L768.7,151.2L769.2,149.8L769.7,149.5L770.1,149.5L770.2,149.4L770.7,148.3L771.2,148.5L771.7,148.5L771.9,148.2L772.2,146.6L772.7,145.1L773.2,144.8L773.7,145.8L773.7,146.3L774.2,146.0L774.7,145.2L775.2,144.7L775.4,144.2L775.7,143.4L776.2,142.4L776.7,144.1L776.9,142.6L777.2,143.6L777.7,144.5L778.2,145.7L778.3,145.2L778.7,146.0L779.2,147.2L779.7,146.3L779.8,145.9L780.2,145.6L780.7,146.0L781.2,145.8L781.2,146.7L781.7,146.8L782.2,147.1L782.6,146.4L782.7,146.2L783.2,145.2L783.7,143.7L784.1,143.2L784.2,143.0L784.7,142.4L785.2,141.3L785.5,140.3L785.7,140.6L786.2,139.8L786.7,138.3L787.0,138.2L787.2,138.2L787.7,136.6L788.2,137.0L788.4,137.3L788.7,137.3L789.2,136.8L789.7,136.1L789.8,135.2L790.2,134.4L790.7,132.0L791.2,131.6L791.3,131.7L791.7,130.4L792.2,129.3L792.3,128.1L792.7,125.9L793.2,125.6L793.4,124.5L793.7,123.9L794.2,123.3L794.5,123.3L794.7,123.7L795.2,123.8L795.6,125.1L795.7,124.8L796.2,125.1L796.7,124.5L797.0,124.5L797.2,124.1L797.7,124.6L798.2,124.5L798.5,125.0L798.7,125.1L799.2,125.2L799.7,124.3L799.9,123.9L800.2,124.1L800.7,124.0L801.2,124.7L801.3,125.5L801.7,124.7L802.2,124.2L802.7,124.2L802.8,124.7L803.2,126.8L803.7,126.4L803.9,126.2L804.2,125.5L804.6,124.3L804.7,122.4L805.2,120.9L805.3,120.8L805.7,119.5L806.2,117.8L806.7,115.8L806.9,114.6L807.2,114.1L807.7,112.4L808.0,111.4L808.2,109.9L808.7,107.7L809.2,105.6L809.2,104.8L809.7,100.9L810.1,98.7L810.2,97.9L810.7,95.2L810.7,95.2L811.2,103.3L811.2,102.7L811.6,107.8L811.7,106.9L812.1,105.5L812.2,105.5L812.5,103.0L812.7,101.7L813.1,101.9L813.2,101.5L813.7,100.9L813.7,100.1L814.2,99.2L814.2,99.6L814.7,98.6L814.8,98.7L815.2,97.7L815.3,97.7L815.7,97.4L815.9,96.6L816.2,95.1L816.5,94.5L816.7,92.7L817.0,93.1L817.2,91.8L817.6,91.1L817.7,90.5L818.1,88.6L818.2,88.9L818.7,86.5L818.7,86.3L819.2,83.6L819.3,82.7L819.5,76.2L819.7,69.8L819.8,64.9L820.2,64.2L820.2,64.4L820.6,69.6L820.7,69.9L821.1,77.7L821.2,78.8L821.5,78.8L821.7,77.7L822.0,75.0L822.2,74.0L822.4,73.7L822.6,73.1" fill="none" stroke="#ffaa00" stroke-width="1.35" stroke-linejoin="round" clip-path="url(#pt)"/>
<path d="M50.7,203.9L51.2,201.7L51.2,201.4L51.7,199.8L52.0,198.8L52.2,197.6L52.7,196.8L53.0,196.5L53.2,195.4L53.7,194.3L54.2,193.4L54.3,193.8L54.7,192.9L55.2,193.2L55.6,193.0L55.7,190.9L56.2,192.4L56.7,192.0L57.0,192.0L57.2,192.0L57.7,191.9L58.1,191.7L58.2,191.4L58.7,192.2L59.1,192.4L59.2,193.1L59.7,191.5L60.2,191.0L60.2,191.3L60.7,191.2L61.2,190.9L61.5,191.1L61.7,188.8L62.2,189.5L62.7,189.7L62.7,190.2L63.2,191.3L63.7,190.9L64.2,191.6L64.2,190.2L64.7,191.3L65.2,190.7L65.6,191.6L65.7,192.7L66.2,192.4L66.7,191.7L66.9,191.4L67.2,190.6L67.7,190.4L68.1,191.5L68.2,190.2L68.7,191.3L69.2,190.8L69.2,191.9L69.7,191.9L70.2,194.3L70.3,194.3L70.7,195.4L71.2,195.8L71.4,197.2L71.7,196.8L72.2,196.2L72.4,196.9L72.7,197.2L73.2,196.6L73.5,196.3L73.7,196.7L74.2,196.7L74.6,197.2L74.7,197.0L75.2,197.6L75.7,196.7L75.9,196.1L76.2,196.2L76.7,196.2L77.1,196.7L77.2,196.5L77.7,197.4L78.2,196.1L78.6,197.3L78.7,197.1L79.2,197.4L79.7,198.3L80.0,197.9L80.2,198.2L80.7,198.1L81.2,198.3L81.4,198.4L81.7,197.8L82.2,196.9L82.5,197.1L82.7,198.0L83.2,197.5L83.6,196.3L83.7,196.6L84.2,195.4L84.7,195.4L84.9,195.5L85.2,194.7L85.7,195.1L86.1,194.9L86.2,195.0L86.7,195.0L87.2,194.5L87.2,195.9L87.7,195.4L88.2,195.1L88.4,193.6L88.7,194.0L89.2,193.2L89.7,192.7L89.7,192.2L90.2,192.3L90.7,192.8L90.8,191.9L91.2,192.4L91.7,193.0L92.0,192.9L92.2,193.5L92.7,193.6L93.2,192.9L93.3,193.1L93.7,193.3L94.2,193.5L94.4,193.5L94.7,193.9L95.2,194.1L95.6,193.7L95.7,194.4L96.2,193.1L96.7,193.4L96.9,192.6L97.2,192.0L97.7,192.2L98.2,191.9L98.3,192.0L98.7,192.2L99.2,192.2L99.7,191.9L99.8,191.4L100.2,190.7L100.7,190.6L101.2,190.4L101.2,190.9L101.7,191.1L102.2,190.6L102.7,190.3L102.7,189.8L103.2,190.7L103.7,190.4L104.1,190.0L104.2,190.2L104.7,190.3L105.2,190.0L105.5,189.9L105.7,190.6L106.2,188.7L106.7,189.6L107.0,191.0L107.2,190.3L107.7,190.2L108.2,190.7L108.4,190.0L108.7,190.8L109.2,189.4L109.7,188.7L109.8,189.3L110.2,189.0L110.7,189.1L111.2,190.2L111.3,190.5L111.7,190.8L112.2,190.8L112.7,191.4L112.7,191.3L113.2,191.2L113.7,192.0L114.2,192.4L114.2,192.5L114.7,193.1L115.2,192.5L115.6,193.0L115.7,192.7L116.2,194.1L116.7,194.4L117.0,194.7L117.2,195.9L117.7,195.1L118.2,194.4L118.5,195.0L118.7,195.0L119.2,195.2L119.7,195.0L119.9,195.8L120.2,196.2L120.7,196.8L121.2,197.3L121.3,197.0L121.7,195.9L122.2,197.0L122.4,197.8L122.7,197.2L123.2,197.6L123.5,197.1L123.7,197.7L124.2,196.5L124.6,195.6L124.7,195.8L125.2,195.4L125.7,193.9L125.7,194.5L126.2,193.7L126.7,192.4L126.7,192.8L127.2,192.6L127.7,192.7L127.8,192.1L128.2,191.7L128.7,189.6L128.9,190.2L129.2,190.9L129.7,190.5L130.0,189.5L130.2,190.6L130.7,190.1L131.1,190.6L131.2,190.6L131.7,189.6L132.1,189.9L132.2,190.1L132.7,190.8L133.2,190.7L133.2,189.4L133.7,188.0L134.2,188.5L134.3,189.0L134.7,188.7L135.2,188.5L135.4,189.6L135.7,188.3L136.1,188.3L136.2,188.9L136.7,189.9L136.8,189.8L137.2,189.7L137.7,190.8L137.9,192.0L138.2,192.2L138.7,193.9L139.0,193.2L139.2,193.2L139.7,194.1L140.0,193.9L140.2,194.4L140.7,195.0L141.1,197.1L141.2,198.0L141.7,198.8L142.2,200.4L142.2,200.3L142.7,198.3L143.2,200.0L143.3,199.2L143.7,199.7L144.2,199.3L144.4,198.7L144.7,200.5L145.2,199.0L145.4,199.3L145.7,198.7L146.2,198.2L146.5,198.3L146.7,198.2L147.2,198.4L147.6,199.5L147.7,199.9L148.2,201.6L148.7,202.4L148.7,203.4L149.2,201.6L149.7,201.2L149.8,200.7L150.2,199.7L150.7,198.1L150.8,198.3L151.2,197.5L151.7,196.7L151.9,196.5L152.2,197.2L152.7,196.4L153.0,195.8L153.2,195.4L153.7,195.0L154.1,194.9L154.2,193.8L154.7,193.2L155.1,193.9L155.2,194.5L155.7,193.0L156.2,192.7L156.2,192.6L156.7,190.7L157.2,190.8L157.3,191.3L157.7,192.1L158.2,192.5L158.4,192.7L158.7,192.0L159.2,192.7L159.5,192.6L159.7,192.4L160.2,193.1L160.5,192.1L160.7,192.7L161.2,193.8L161.6,193.3L161.7,194.1L162.2,194.1L162.7,194.0L163.2,192.2L163.7,191.6L163.8,192.2L164.2,192.9L164.7,192.0L164.9,191.4L165.2,190.3L165.7,191.3L165.9,190.3L166.2,190.9L166.7,190.8L167.0,189.8L167.2,189.4L167.7,189.2L168.1,188.9L168.2,189.1L168.7,189.9L169.2,189.1L169.2,189.8L169.7,188.6L170.2,188.6L170.2,188.1L170.7,187.9L171.2,188.8L171.3,189.3L171.7,189.8L172.2,189.8L172.4,189.2L172.7,189.4L173.2,189.5L173.5,190.0L173.7,189.1L174.2,190.4L174.6,191.1L174.7,191.6L175.2,191.8L175.6,192.2L175.7,193.1L176.2,193.4L176.7,193.7L176.7,193.3L177.2,193.7L177.7,192.9L177.8,192.9L178.2,192.2L178.7,193.5L178.9,193.9L179.2,194.3L179.7,195.0L180.0,194.5L180.2,194.7L180.7,195.8L181.0,195.5L181.2,196.2L181.7,196.2L182.1,196.2L182.2,196.1L182.7,195.5L183.2,197.0L183.2,196.7L183.7,197.5L184.2,196.3L184.3,196.7L184.7,197.0L185.2,197.0L185.3,197.2L185.7,196.5L186.2,195.7L186.4,195.9L186.7,195.3L187.2,195.0L187.5,195.7L187.7,195.7L188.2,196.1L188.6,196.8L188.7,195.7L189.2,196.7L189.7,198.1L189.7,197.3L190.2,197.9L190.7,199.0L190.7,198.8L191.2,198.3L191.7,197.5L191.8,198.2L192.2,198.7L192.7,198.1L192.9,196.5L193.2,196.5L193.7,195.5L194.0,195.1L194.2,194.5L194.7,194.0L195.1,193.3L195.2,193.3L195.7,193.8L196.1,192.1L196.2,191.3L196.7,191.8L197.2,192.1L197.2,191.7L197.7,191.9L198.2,191.8L198.3,191.6L198.7,192.3L199.2,191.2L199.4,191.2L199.7,191.7L200.2,191.7L200.4,192.3L200.7,191.4L201.2,190.6L201.5,191.7L201.7,190.9L202.2,192.0L202.6,191.4L202.7,191.2L203.2,190.9L203.7,191.1L203.7,190.9L204.2,190.8L204.7,193.0L204.8,192.4L205.2,192.7L205.7,191.5L205.8,193.0L206.2,194.1L206.7,194.2L206.9,194.4L207.2,194.6L207.7,196.3L208.2,198.0L208.6,198.5L208.7,197.3L209.2,198.5L209.7,199.7L209.7,200.0L210.2,199.6L210.7,198.6L210.8,197.9L211.2,198.5L211.7,199.6L211.9,198.4L212.2,198.8L212.7,198.5L212.9,199.0L213.2,199.3L213.7,200.6L214.0,200.9L214.2,201.0L214.7,202.9L215.1,203.2L215.2,203.9L215.7,205.0L215.8,204.8L216.2,203.7L216.5,202.2L216.7,202.1L217.2,202.2L217.6,201.3L217.7,201.9L218.2,202.0L218.7,202.3L218.7,201.9L219.2,201.4L219.7,200.6L219.8,201.6L220.2,201.8L220.7,201.5L220.9,201.3L221.2,201.5L221.7,202.5L221.9,202.8L222.2,201.8L222.7,202.7L223.0,203.4L223.2,203.9L223.7,202.4L224.1,201.8L224.2,202.3L224.7,201.7L225.2,200.8L225.2,200.9L225.7,200.1L226.2,201.0L226.2,200.1L226.7,199.3L227.2,197.4L227.3,198.8L227.7,199.6L228.2,199.2L228.4,198.8L228.7,199.0L229.2,199.0L229.5,199.3L229.7,200.6L230.2,200.7L230.6,199.2L230.7,200.4L231.2,198.5L231.6,197.5L231.7,197.9L232.2,198.8L232.7,199.4L232.7,199.3L233.2,199.4L233.7,199.1L233.8,198.6L234.2,198.7L234.7,198.1L234.9,197.8L235.2,198.4L235.7,197.6L236.0,197.7L236.2,198.1L236.7,197.4L237.0,197.0L237.2,196.9L237.7,196.9L238.1,197.1L238.2,197.1L238.7,197.7L239.2,198.1L239.2,198.6L239.7,197.8L240.2,197.8L240.3,197.9L240.7,198.5L241.2,199.6L241.3,199.5L241.7,199.9L242.2,200.1L242.4,199.9L242.7,200.5L243.2,200.5L243.5,200.1L243.7,200.7L244.2,201.6L244.6,200.6L244.7,200.4L245.2,200.1L245.7,201.1L245.7,200.9L246.2,202.1L246.7,202.5L246.7,201.6L247.2,201.3L247.7,201.0L247.8,201.5L248.2,201.2L248.7,201.9L248.9,201.7L249.2,202.2L249.7,202.4L250.0,201.8L250.2,201.4L250.7,202.1L251.1,202.6L251.2,200.7L251.7,201.5L252.1,202.2L252.2,202.0L252.7,200.7L253.2,201.5L253.2,201.2L253.7,201.0L254.2,200.8L254.3,200.0L254.7,199.2L255.2,198.4L255.4,198.8L255.7,198.4L256.2,198.0L256.4,199.1L256.7,199.4L257.2,199.4L257.5,198.2L257.7,197.8L258.2,197.5L258.6,197.5L258.7,197.7L259.2,196.7L259.7,196.3L259.7,196.8L260.2,197.5L260.7,197.5L260.8,195.7L261.2,194.6L261.7,193.9L261.8,193.7L262.2,194.3L262.7,192.9L262.9,192.0L263.2,192.6L263.7,191.7L264.0,191.5L264.2,192.0L264.7,192.5L265.1,192.8L265.2,192.6L265.7,192.8L266.2,193.4L266.2,192.9L266.7,193.3L267.2,192.8L267.2,192.8L267.7,193.1L268.2,191.9L268.3,192.2L268.7,192.8L269.2,192.5L269.4,192.6L269.7,191.5L270.2,191.7L270.5,191.5L270.7,190.7L271.2,191.1L271.6,191.0L271.7,191.0L272.2,191.4L272.6,191.5L272.7,191.9L273.2,192.6L273.7,192.1L273.7,192.0L274.2,192.2L274.7,192.7L274.8,192.1L275.2,191.6L275.7,190.7L275.9,190.9L276.2,191.6L276.7,191.2L276.9,191.6L277.2,192.1L277.7,192.6L278.0,192.4L278.2,193.7L278.7,193.5L279.1,193.2L279.2,193.8L279.7,193.7L280.2,194.1L280.2,194.1L280.7,193.3L281.2,192.8L281.3,193.5L281.7,193.0L282.2,192.2L282.3,192.0L282.7,191.5L283.2,191.7L283.4,191.6L283.7,191.3L284.2,190.9L284.5,189.9L284.7,189.0L285.2,188.7L285.6,189.0L285.7,189.2L286.2,187.6L286.7,188.4L286.7,188.8L287.2,189.8L287.7,188.6L287.7,188.4L288.2,188.9L288.7,188.3L288.8,187.1L289.2,186.6L289.7,185.7L289.9,186.2L290.2,186.5L290.7,186.9L291.0,186.2L291.2,186.6L291.7,186.3L292.0,185.0L292.2,185.3L292.7,185.2L293.1,184.2L293.2,183.6L293.7,183.4L294.2,183.2L294.2,183.3L294.7,181.9L295.2,181.7L295.3,182.6L295.7,183.0L296.2,181.7L296.4,181.0L296.7,180.5L297.2,179.5L297.4,179.7L297.7,179.5L298.2,178.8L298.5,179.4L298.7,179.6L299.2,179.3L299.6,180.2L299.7,179.3L300.2,180.5L300.7,181.6L300.7,181.3L301.2,182.2L301.7,183.3L301.8,183.4L302.2,183.5L302.7,184.6L302.8,184.9L303.2,183.9L303.7,185.6L303.9,186.2L304.2,185.1L304.6,181.7L304.7,181.3L305.2,179.4L305.3,178.6L305.7,178.9L306.1,177.3L306.2,177.6L306.7,178.1L306.8,178.7L307.2,180.5L307.5,180.5L307.7,181.4L308.2,182.1L308.6,181.2L308.7,182.3L309.2,181.3L309.7,181.3L309.7,181.8L310.2,181.6L310.7,182.2L310.7,182.2L311.2,181.2L311.7,182.1L311.8,181.8L312.2,182.1L312.7,182.9L312.9,182.0L313.2,182.3L313.7,182.2L314.0,181.9L314.2,181.3L314.7,180.2L315.1,180.4L315.2,180.3L315.7,179.4L316.1,179.4L316.2,179.7L316.7,180.0L317.2,178.6L317.2,178.1L317.7,177.3L318.2,177.4L318.3,177.3L318.7,176.8L319.2,177.2L319.4,176.4L319.7,176.0L320.2,176.0L320.4,175.6L320.7,175.2L321.2,174.6L321.5,174.5L321.7,175.0L322.2,175.6L322.6,175.2L322.7,174.7L323.2,174.4L323.7,174.1L323.7,173.9L324.2,172.9L324.7,172.8L324.8,172.7L325.2,173.0L325.7,173.0L325.8,172.6L326.2,171.7L326.7,171.3L326.9,171.2L327.2,170.9L327.7,169.5L328.0,169.5L328.2,168.0L328.7,168.9L329.1,168.8L329.2,168.2L329.7,169.6L330.2,170.5L330.2,171.0L330.7,171.6L331.2,172.7L331.2,171.8L331.7,172.9L332.2,172.4L332.3,171.9L332.7,172.0L333.2,171.8L333.4,172.7L333.7,172.0L334.2,172.2L334.5,172.1L334.7,173.1L335.2,173.8L335.6,172.5L335.7,172.2L336.2,171.3L336.6,170.4L336.7,171.4L337.2,171.3L337.7,170.1L337.7,169.4L338.2,167.8L338.4,167.7L338.7,169.7L339.1,170.4L339.2,171.4L339.7,171.4L339.9,172.3L340.2,172.6L340.6,174.3L340.7,173.0L341.2,175.2L341.3,175.9L341.7,177.7L342.0,179.8L342.2,179.5L342.7,179.7L343.1,179.5L343.2,179.5L343.7,179.0L344.2,178.3L344.2,177.8L344.7,176.3L345.2,177.3L345.3,177.9L345.7,177.4L346.2,176.2L346.3,176.4L346.7,176.0L347.2,175.5L347.4,176.2L347.7,175.5L348.2,176.3L348.5,176.3L348.7,175.9L349.2,175.2L349.6,174.8L349.7,174.6L350.2,175.5L350.7,175.7L350.7,176.2L351.2,175.3L351.7,174.4L351.7,175.3L352.2,175.7L352.7,174.5L352.8,175.2L353.2,174.1L353.7,174.4L353.9,174.9L354.2,174.5L354.7,174.7L355.0,174.9L355.0,173.4L355.2,172.5L355.7,171.9L356.1,172.5L356.2,173.5L356.7,172.7L357.2,172.3L357.2,171.9L357.7,172.0L358.2,173.2L358.2,172.8L358.7,173.1L359.2,173.4L359.3,173.7L359.7,174.2L360.2,174.4L360.4,174.3L360.7,174.2L361.2,175.4L361.5,175.8L361.7,175.2L362.2,176.3L362.6,176.0L362.7,175.6L363.2,175.9L363.6,176.3L363.7,176.0L364.2,176.2L364.7,177.8L364.7,176.8L365.2,176.8L365.7,177.0L365.8,177.8L366.2,177.3L366.7,178.2L366.9,178.7L367.2,180.3L367.7,180.7L367.9,180.2L368.2,180.7L368.7,182.3L369.0,181.7L369.2,180.6L369.7,178.3L370.1,176.8L370.2,177.0L370.7,174.3L370.8,174.1L371.2,175.4L371.5,176.7L371.7,177.6L372.2,179.3L372.3,179.8L372.7,177.9L373.0,176.6L373.2,177.3L373.7,175.2L374.1,174.1L374.2,173.1L374.7,173.2L375.1,173.0L375.2,172.9L375.7,172.5L376.2,173.1L376.2,172.6L376.7,172.5L377.2,172.3L377.3,171.4L377.7,171.8L378.2,172.6L378.4,171.4L378.7,171.0L379.2,171.3L379.4,170.4L379.7,170.3L380.2,170.4L380.5,169.9L380.7,170.2L381.2,168.3L381.6,168.2L381.7,168.4L382.2,168.8L382.7,168.6L382.7,168.4L383.2,168.3L383.7,168.3L383.8,167.8L384.2,167.2L384.7,165.9L384.8,166.6L385.2,166.5L385.7,165.8L385.9,165.3L386.2,165.8L386.7,165.7L387.0,164.5L387.2,164.7L387.7,165.4L388.1,165.2L388.2,165.3L388.7,165.2L389.2,165.7L389.2,166.5L389.7,165.2L390.2,164.4L390.2,164.9L390.7,163.7L391.2,165.0L391.3,165.4L391.7,165.6L392.2,165.0L392.4,164.9L392.7,165.4L393.2,163.3L393.5,163.7L393.7,165.1L394.2,164.0L394.6,163.4L394.7,163.0L395.2,164.0L395.6,163.2L395.7,163.4L396.2,163.5L396.7,162.7L396.7,162.2L397.2,161.9L397.7,161.6L397.8,162.7L398.2,161.6L398.7,162.2L398.9,162.1L399.2,163.0L399.7,162.0L399.9,161.3L400.2,161.1L400.7,161.4L401.0,160.6L401.2,160.8L401.7,160.1L402.1,159.9L402.2,158.7L402.7,158.0L403.2,158.8L403.2,159.1L403.7,159.1L404.2,157.4L404.3,157.8L404.7,157.1L405.2,157.0L405.3,157.4L405.7,156.6L406.2,155.9L406.4,155.3L406.7,154.1L407.1,152.8L407.2,152.8L407.7,151.4L407.9,149.9L408.2,149.0L408.6,147.5L408.7,146.6L409.2,145.7L409.3,144.6L409.7,142.9L410.0,142.0L410.2,142.4L410.7,140.5L410.7,140.6L411.2,142.7L411.4,142.8L411.7,142.6L412.2,141.2L412.2,140.7L412.7,139.5L412.9,139.5L413.2,139.0L413.6,137.5L413.7,138.1L414.2,137.7L414.3,138.4L414.7,140.1L415.0,140.1L415.2,139.0L415.7,137.6L415.8,138.1L416.2,137.1L416.5,137.3L416.7,136.2L417.2,135.5L417.2,135.8L417.7,134.8L417.9,133.8L418.2,133.6L418.6,131.8L418.7,131.2L419.2,130.3L419.4,130.5L419.7,129.5L420.1,128.6L420.2,129.4L420.7,129.2L420.8,128.0L421.2,128.4L421.5,128.6L421.7,128.8L422.2,128.3L422.2,127.8L422.7,128.4L423.0,128.5L423.2,128.1L423.7,129.4L423.7,129.6L424.2,128.1L424.4,128.3L424.7,129.0L425.1,129.3L425.2,129.9L425.7,131.3L425.8,131.4L426.2,131.0L426.6,130.5L426.7,131.2L427.2,133.6L427.3,133.2L427.7,135.0L428.0,136.3L428.2,137.4L428.7,139.8L428.7,139.0L429.2,140.0L429.4,140.2L429.7,139.0L430.1,136.4L430.2,135.9L430.7,137.2L430.9,138.0L431.2,139.4L431.6,141.9L431.7,142.6L432.2,146.9L432.3,146.5L432.7,148.2L433.0,150.0L433.2,149.7L433.7,147.1L433.7,146.9L434.2,148.1L434.5,149.2L434.7,147.8L435.2,144.0L435.2,143.1L435.7,142.2L435.9,141.1L436.2,142.0L436.6,140.3L436.7,139.5L437.2,142.5L437.3,143.7L437.7,141.6L438.1,139.3L438.2,138.8L438.7,137.1L438.8,137.8L439.2,141.4L439.5,144.4L439.7,143.6L440.2,141.7L440.2,141.4L440.7,139.6L440.9,139.7L441.2,138.8L441.7,138.6L441.7,138.6L442.2,138.2L442.4,137.1L442.7,137.3L443.1,136.5L443.2,136.7L443.7,135.3L443.8,135.6L444.2,135.5L444.5,134.8L444.7,135.3L445.2,135.8L445.2,136.0L445.7,136.9L446.0,137.4L446.2,137.8L446.7,138.2L446.7,138.0L447.2,139.9L447.4,140.5L447.7,140.8L448.1,141.0L448.2,141.1L448.7,142.3L448.8,142.1L449.2,141.9L449.6,140.3L449.7,140.1L450.2,140.5L450.3,141.9L450.7,142.6L451.0,142.7L451.2,142.7L451.7,141.3L451.7,142.1L452.2,143.9L452.4,144.2L452.7,145.0L453.2,146.9L453.2,147.7L453.7,151.3L453.9,150.8L454.2,153.8L454.6,156.7L454.7,157.1L455.2,159.3L455.3,159.2L455.7,157.7L456.0,154.7L456.2,154.2L456.7,151.5L456.8,152.2L457.2,151.3L457.5,150.7L457.7,151.0L458.2,153.5L458.2,153.6L458.7,158.3L458.9,160.4L459.2,163.2L459.6,165.2L459.7,165.6L460.2,168.1L460.3,169.1L460.7,168.3L461.1,167.5L461.2,167.0L461.7,165.4L461.8,163.6L462.2,167.4L462.5,169.3L462.7,170.9L463.2,175.1L463.2,175.8L463.7,173.6L463.9,172.9L464.2,170.9L464.7,168.8L464.7,167.9L465.2,166.9L465.4,166.3L465.7,168.3L466.1,170.9L466.2,171.4L466.7,173.3L466.8,172.7L467.2,170.5L467.5,168.9L467.7,168.7L468.2,168.9L468.3,168.1L468.7,168.4L469.0,168.7L469.2,168.5L469.7,169.2L470.2,167.9L470.4,168.0L470.7,167.8L471.1,167.0L471.2,167.4L471.7,167.0L471.9,166.4L472.2,168.0L472.6,168.7L472.7,169.2L473.2,170.2L473.3,169.7L473.7,169.8L474.0,170.5L474.2,170.9L474.7,170.0L474.7,171.4L475.2,171.9L475.4,172.4L475.7,173.3L476.2,174.0L476.2,174.1L476.7,175.1L476.9,175.9L477.2,175.5L477.6,173.5L477.7,174.3L478.2,175.2L478.3,175.2L478.7,174.5L479.0,173.9L479.2,174.2L479.7,176.5L479.8,177.3L480.2,177.3L480.5,176.5L480.7,175.8L481.2,174.8L481.2,175.2L481.7,176.2L481.9,175.9L482.2,177.2L482.6,177.9L482.7,177.9L483.2,177.0L483.4,177.2L483.7,179.0L484.1,180.1L484.2,179.1L484.7,176.7L484.8,176.7L485.2,175.8L485.5,174.6L485.7,174.5L486.2,173.4L486.2,173.8L486.7,176.0L487.0,175.4L487.2,176.3L487.7,177.6L487.7,178.1L488.2,179.5L488.4,180.1L488.7,181.8L489.1,182.3L489.2,182.0L489.7,184.5L489.8,184.2L490.2,183.7L490.6,183.2L490.7,184.6L491.2,184.7L491.3,185.1L491.7,185.4L492.0,185.9L492.2,185.4L492.7,186.0L492.7,186.7L493.2,187.4L493.4,187.4L493.7,187.6L494.1,188.4L494.2,188.4L494.7,188.9L494.9,189.5L495.2,187.7L495.6,186.1L495.7,186.0L496.2,184.3L496.3,184.4L496.7,182.8L497.0,183.9L497.2,183.1L497.7,183.8L497.7,185.3L498.2,184.0L498.5,183.3L498.7,183.2L499.2,182.6L499.2,182.4L499.7,183.7L499.9,183.7L500.2,183.4L500.6,183.4L500.7,182.3L501.2,183.1L501.3,183.4L501.7,183.1L502.1,184.9L502.2,185.8L502.7,186.6L502.8,186.0L503.2,185.1L503.5,184.9L503.7,185.0L504.2,183.8L504.2,183.8L504.7,185.0L504.9,185.7L505.0,186.5L505.2,185.6L505.7,184.9L505.9,184.4L506.2,182.6L506.7,181.3L506.8,181.1L507.2,180.4L507.7,179.6L508.2,178.3L508.6,178.4L508.7,178.8L509.2,177.6L509.5,176.2L509.7,175.6L510.2,175.1L510.4,174.7L510.7,173.6L511.2,170.2L511.3,171.1L511.7,170.3L512.2,169.5L512.2,168.8L512.7,170.0L513.1,170.4L513.2,171.6L513.7,172.3L514.0,173.6L514.2,173.8L514.7,171.4L514.9,171.1L515.2,172.6L515.7,174.1L515.8,175.5L516.2,176.6L516.7,176.6L516.7,176.8L517.2,175.2L517.6,172.5L517.7,172.1L518.2,172.3L518.5,171.2L518.7,172.6L519.2,173.4L519.4,173.8L519.7,173.8L520.2,175.3L520.3,175.5L520.7,175.7L521.2,176.3L521.2,176.4L521.7,177.5L522.1,178.4L522.2,178.7L522.7,175.4L523.0,175.3L523.2,175.8L523.7,174.3L523.9,174.4L524.2,175.2L524.7,173.2L524.8,173.0L525.2,172.4L525.7,170.7L525.7,170.5L526.2,170.2L526.6,171.5L526.7,171.7L527.2,171.0L527.5,170.2L527.7,169.7L528.2,169.7L528.4,169.5L528.7,169.7L529.2,169.4L529.3,168.6L529.7,169.8L530.2,170.0L530.2,170.9L530.7,170.4L531.1,170.7L531.2,170.5L531.7,171.4L532.0,172.9L532.2,173.5L532.7,174.8L532.9,175.4L533.2,175.7L533.7,177.0L533.8,176.9L534.2,175.9L534.7,175.0L534.7,175.6L535.2,176.5L535.6,177.2L535.7,177.2L536.2,176.3L536.5,175.6L536.7,174.5L537.2,173.0L537.4,173.2L537.7,172.9L538.2,173.6L538.3,174.2L538.7,175.7L539.2,176.4L539.2,176.9L539.7,176.3L540.1,175.3L540.2,175.3L540.7,175.1L541.0,175.7L541.2,176.0L541.7,176.8L541.9,177.2L542.2,178.8L542.7,179.2L542.8,179.8L543.2,179.3L543.7,181.2L543.7,181.3L544.2,179.0L544.6,178.5L544.7,178.0L545.2,179.0L545.4,178.4L545.7,178.1L546.2,177.9L546.3,177.4L546.7,177.5L547.2,177.7L547.2,178.2L547.7,177.2L548.1,176.5L548.2,176.1L548.7,175.7L549.0,174.5L549.2,175.4L549.7,176.1L549.9,175.5L550.2,176.3L550.7,174.8L550.8,173.7L551.2,172.6L551.7,172.5L551.7,172.7L552.2,171.8L552.6,171.5L552.7,171.2L553.2,171.4L553.5,172.4L553.7,171.6L554.2,171.8L554.4,171.2L554.7,172.5L555.2,172.5L555.3,172.7L555.7,171.5L556.2,172.1L556.2,171.9L556.7,172.1L557.1,172.5L557.2,172.6L557.7,171.9L558.0,170.9L558.2,171.6L558.7,170.2L558.9,170.3L559.2,170.2L559.7,168.7L559.8,169.0L560.2,169.4L560.7,169.3L560.7,169.5L561.2,169.0L561.6,168.9L561.7,168.6L562.2,170.5L562.5,170.3L562.7,171.4L563.2,171.2L563.4,171.1L563.7,171.1L564.2,172.3L564.3,173.1L564.7,173.7L565.2,173.5L565.2,173.5L565.7,174.3L566.1,174.5L566.2,175.8L566.7,175.8L567.0,175.6L567.2,175.7L567.7,175.4L567.9,173.5L568.2,173.4L568.7,173.7L568.8,173.9L569.2,174.1L569.7,174.9L569.7,175.5L570.2,176.4L570.6,176.6L570.7,176.9L571.2,175.5L571.5,175.6L571.7,176.9L572.2,176.4L572.4,175.9L572.7,176.3L573.2,177.0L573.3,176.6L573.7,176.7L574.2,176.4L574.2,175.7L574.7,175.9L575.1,176.6L575.2,175.4L575.7,176.2L576.0,175.8L576.2,176.2L576.7,178.2L576.9,177.3L577.2,177.0L577.7,176.0L577.8,175.8L578.2,175.9L578.7,175.4L578.7,175.4L579.2,174.9L579.6,173.7L579.7,173.6L580.2,171.7L580.5,169.2L580.7,169.8L581.2,170.8L581.4,171.3L581.7,173.6L582.2,173.6L582.3,174.1L582.7,175.0L583.2,176.1L583.2,175.7L583.7,176.1L584.1,176.1L584.2,176.2L584.7,176.9L585.0,178.4L585.2,178.9L585.7,178.8L585.9,178.9L586.2,179.3L586.7,177.7L586.8,178.1L587.2,178.0L587.7,177.6L587.7,178.1L588.2,177.4L588.6,177.5L588.7,177.6L589.2,176.7L589.5,176.6L589.7,177.5L590.2,177.5L590.4,177.9L590.7,178.4L591.2,179.9L591.3,180.1L591.7,180.8L592.2,182.3L592.2,182.1L592.7,181.2L593.1,180.8L593.2,179.8L593.7,179.5L594.0,179.5L594.2,180.1L594.7,178.2L594.9,178.6L595.2,177.9L595.7,176.8L595.8,177.7L596.2,176.8L596.7,176.7L596.7,176.2L597.2,177.0L597.6,176.4L597.7,177.1L598.2,176.9L598.5,175.7L598.7,175.5L599.2,173.8L599.4,174.2L599.7,174.3L600.2,175.0L600.3,175.4L600.7,175.3L601.2,176.2L601.2,175.5L601.7,176.2L602.1,176.0L602.2,174.9L602.7,175.6L603.0,176.8L603.2,176.0L603.7,175.2L603.9,175.6L604.2,174.9L604.7,175.1L604.8,175.3L605.2,175.8L605.7,176.2L605.7,176.5L606.2,176.4L606.6,174.9L606.7,175.2L607.2,176.1L607.5,176.4L607.7,176.9L608.2,178.1L608.4,178.2L608.7,178.1L609.2,178.3L609.3,179.1L609.7,179.2L610.2,179.5L610.2,179.1L610.7,179.7L611.1,180.9L611.2,182.0L611.7,183.0L612.0,184.7L612.2,187.2L612.5,190.3L612.7,191.7L613.0,194.5L613.2,194.2L613.7,192.3L613.8,190.7L614.2,188.5L614.5,187.1L614.7,187.6L615.2,188.4L615.2,188.8L615.7,190.0L615.9,191.1L616.2,190.2L616.6,188.4L616.7,188.0L617.2,186.2L617.4,185.4L617.7,184.6L618.1,183.2L618.2,182.8L618.7,183.3L618.8,182.0L619.2,181.8L619.5,183.1L619.7,183.7L620.2,184.1L620.2,183.3L620.7,182.2L621.0,182.0L621.2,181.5L621.7,180.3L621.9,180.9L622.2,179.7L622.7,180.3L622.8,180.0L623.2,179.3L623.7,178.6L623.7,178.7L624.2,178.6L624.6,177.8L624.7,178.4L625.2,177.0L625.4,176.0L625.7,176.1L626.2,174.4L626.3,174.2L626.7,173.7L627.2,174.2L627.2,175.1L627.7,175.3L628.1,177.1L628.2,176.5L628.7,177.3L629.0,177.5L629.2,176.9L629.7,176.9L629.9,177.3L630.2,177.3L630.7,177.9L630.8,178.2L631.2,178.0L631.7,179.1L631.7,179.1L632.2,179.3L632.6,179.6L632.7,180.4L633.2,182.0L633.5,182.3L633.7,183.0L634.2,183.7L634.4,182.9L634.7,182.7L635.2,181.7L635.3,181.1L635.7,180.7L636.2,179.8L636.2,180.1L636.7,179.8L637.1,179.5L637.2,179.8L637.7,178.9L638.0,177.9L638.2,177.7L638.7,177.9L638.9,177.7L639.2,177.5L639.7,176.5L639.8,177.9L640.2,177.7L640.7,178.7L640.7,178.0L641.2,178.0L641.6,177.5L641.7,178.0L642.2,177.9L642.5,178.1L642.7,178.4L643.2,178.1L643.4,178.3L643.7,178.6L644.2,177.2L644.3,177.4L644.7,177.5L645.2,177.7L645.2,177.1L645.7,176.3L646.1,176.6L646.2,177.7L646.7,178.4L647.0,177.4L647.2,177.2L647.7,177.5L647.9,177.3L648.2,177.0L648.7,176.4L648.8,176.9L649.2,176.2L649.7,176.4L649.7,176.2L650.2,175.6L650.6,176.3L650.7,175.9L651.2,176.6L651.5,177.3L651.7,179.2L652.1,179.9L652.2,178.9L652.7,176.1L652.8,175.9L653.2,174.7L653.5,173.1L653.7,173.7L654.2,170.4L654.2,170.4L654.7,169.4L654.9,169.4L655.0,172.3L655.2,172.3L655.7,171.1L655.9,170.4L656.2,168.4L656.7,168.0L656.8,169.5L657.2,169.2L657.7,168.5L657.7,168.8L658.2,168.7L658.6,167.7L658.7,168.3L659.2,168.1L659.5,167.2L659.7,167.4L660.2,168.4L660.4,167.8L660.7,167.6L661.2,166.8L661.3,167.0L661.7,165.6L662.2,165.9L662.2,165.5L662.7,165.7L663.1,164.8L663.2,165.9L663.7,165.5L664.0,164.0L664.2,165.6L664.7,166.1L664.9,166.0L665.2,166.2L665.7,167.9L665.8,168.2L666.2,167.8L666.7,168.9L666.7,169.5L667.2,168.3L667.6,167.8L667.7,167.5L668.2,168.1L668.5,168.7L668.7,168.4L669.2,168.3L669.4,168.6L669.7,168.2L670.2,167.6L670.3,167.3L670.7,167.1L671.2,166.7L671.2,166.5L671.7,165.8L672.1,166.9L672.2,165.3L672.7,165.6L673.0,164.8L673.2,165.7L673.7,165.7L673.9,166.0L674.2,166.3L674.7,165.1L674.8,163.9L675.2,163.4L675.7,164.5L675.7,164.4L676.2,163.4L676.6,163.3L676.7,162.9L677.2,164.4L677.5,165.1L677.7,164.6L678.2,164.9L678.4,164.5L678.7,164.0L679.2,163.3L679.3,163.5L679.7,164.6L680.2,165.5L680.2,165.6L680.7,165.7L681.1,164.2L681.2,163.8L681.7,165.9L682.0,167.8L682.2,167.9L682.7,168.3L682.9,168.1L683.2,166.3L683.7,165.9L683.8,166.5L684.2,165.5L684.7,165.6L684.7,165.3L685.2,163.7L685.6,164.4L685.7,164.7L686.2,166.6L686.5,165.6L686.7,165.1L687.2,164.3L687.4,164.0L687.7,162.7L688.2,161.4L688.3,160.7L688.7,161.7L689.2,162.8L689.2,162.6L689.7,161.4L690.1,161.9L690.2,162.2L690.7,161.5L691.0,161.6L691.2,160.9L691.7,161.0L691.9,161.2L692.2,160.2L692.7,160.5L692.8,160.1L693.2,160.9L693.7,162.1L693.7,161.3L694.2,159.9L694.6,159.0L694.7,159.2L695.2,158.4L695.4,157.8L695.7,157.9L696.2,157.3L696.3,158.0L696.7,157.6L697.2,157.2L697.2,156.5L697.7,155.8L698.1,155.7L698.2,156.0L698.7,156.1L699.0,155.1L699.2,155.1L699.7,155.0L699.9,155.5L700.2,155.6L700.7,156.9L700.8,157.2L701.2,157.2L701.7,156.8L701.7,156.8L702.2,157.9L702.6,158.9L702.7,159.4L703.2,160.9L703.5,160.6L703.7,160.2L704.2,159.7L704.4,159.1L704.7,158.6L705.2,158.0L705.3,157.9L705.7,157.2L706.2,157.0L706.2,157.4L706.7,157.6L707.1,157.9L707.2,157.5L707.7,158.6L708.0,158.1L708.2,157.8L708.7,156.4L708.9,157.3L709.2,156.8L709.7,157.1L709.8,156.5L710.2,156.9L710.7,157.6L710.7,156.9L711.2,155.9L711.6,154.8L711.7,154.1L712.2,154.6L712.5,154.0L712.7,155.4L713.2,157.1L713.4,157.6L713.7,156.7L714.2,155.9L714.3,155.6L714.7,155.8L715.2,154.7L715.2,155.2L715.7,154.6L716.1,154.0L716.2,153.6L716.7,154.6L717.0,152.9L717.2,152.9L717.7,152.5L717.9,151.8L718.2,152.3L718.7,151.4L718.8,149.5L719.2,148.8L719.7,147.2L719.7,147.6L720.2,146.4L720.6,146.1L720.7,146.5L721.2,145.1L721.5,144.0L721.7,143.7L722.2,142.5L722.4,141.9L722.7,140.2L723.2,137.0L723.3,135.2L723.7,134.7L724.2,132.2L724.2,132.3L724.7,130.3L725.1,130.5L725.2,131.2L725.7,128.6L726.0,127.7L726.2,126.8L726.7,126.8L726.9,127.2L727.2,127.2L727.7,129.5L727.8,130.2L728.2,131.3L728.7,132.6L728.7,132.6L729.2,128.0L729.6,125.7L729.7,125.7L730.2,124.8L730.5,124.5L730.7,124.1L731.2,124.7L731.4,125.0L731.7,123.8L732.2,124.0L732.3,124.4L732.7,124.0L733.2,124.5L733.2,124.5L733.7,124.3L734.1,122.6L734.2,121.5L734.7,121.4L735.0,120.9L735.2,119.6L735.7,118.7L735.9,118.8L736.2,117.9L736.7,116.3L736.8,115.7L737.2,115.5L737.7,118.7L737.7,119.3L738.2,120.4L738.6,120.6L738.7,121.4L739.2,122.1L739.5,123.7L739.7,124.3L740.2,125.6L740.4,125.2L740.7,126.4L741.2,126.6L741.3,128.0L741.7,129.3L742.2,132.3L742.2,132.8L742.7,134.7L743.1,135.3L743.2,135.1L743.7,139.2L744.0,140.6L744.2,139.1L744.7,138.9L744.9,138.6L745.2,138.3L745.7,138.1L745.8,137.4L746.2,137.0L746.7,135.5L746.7,135.7L747.2,133.2L747.6,133.0L747.7,132.5L748.2,131.9L748.5,132.3L748.7,131.6L749.2,130.6L749.4,130.4L749.7,128.8L750.2,127.1L750.3,126.7L750.7,125.2L751.2,122.3L751.2,122.2L751.7,121.6L752.1,120.2L752.2,119.2L752.7,119.2L753.0,118.9L753.2,119.3L753.7,121.5L753.9,121.1L754.2,122.2L754.7,123.7L754.8,122.7L755.2,123.9L755.7,125.8L755.7,126.0L756.2,127.3L756.6,128.3L756.7,126.3L757.2,125.1L757.5,124.5L757.7,122.8L758.2,122.0L758.4,120.8L758.7,120.2L759.2,118.5L759.3,119.1L759.7,118.2L760.2,117.2L760.2,117.4L760.7,117.4L761.1,118.3L761.2,118.3L761.7,116.7L762.0,116.0L762.2,116.2L762.7,116.9L762.9,117.1L763.2,116.7L763.7,118.4L763.8,118.2L764.2,118.4L764.7,117.5L764.7,117.5L765.2,118.0L765.6,118.6L765.7,119.2L766.2,119.5L766.5,120.2L766.7,121.4L767.2,121.6L767.4,121.0L767.7,123.7L768.2,127.3L768.3,126.5L768.7,127.8L769.2,128.5L769.2,128.2L769.7,129.5L770.1,129.8L770.2,130.1L770.7,130.0L771.0,129.0L771.2,128.6L771.7,127.9L771.9,126.6L772.2,126.4L772.7,125.1L772.8,124.5L773.2,124.8L773.7,123.6L773.7,123.6L774.2,124.3L774.6,125.2L774.7,125.4L775.2,126.0L775.4,126.2L775.7,127.3L776.2,125.6L776.3,125.4L776.7,126.6L777.2,127.3L777.2,127.2L777.7,124.3L778.1,122.5L778.2,122.9L778.7,120.7L779.0,120.0L779.2,120.4L779.7,119.6L779.9,119.1L780.2,118.0L780.7,118.6L780.8,118.7L781.1,118.7L781.2,119.5L781.7,115.4L782.2,114.4L782.2,114.0L782.7,113.4L783.2,112.2L783.3,111.9L783.7,110.6L784.2,108.8L784.4,109.2L784.7,109.4L785.0,109.5L785.2,110.7L785.6,111.6L785.7,110.9L786.1,112.0L786.2,112.1L786.7,111.4L786.7,111.4L787.2,109.4L787.2,109.4L787.7,108.3L787.8,108.3L788.2,107.6L788.4,106.3L788.7,107.9L788.9,107.7L789.2,106.6L789.5,106.0L789.7,106.1L790.1,104.6L790.2,104.0L790.6,103.6L790.7,103.7L791.2,104.4L791.2,104.3L791.7,111.3L791.7,112.0L792.1,107.7L792.2,107.9L792.5,104.2L792.7,103.5L793.0,102.0L793.2,100.8L793.4,101.5L793.7,99.8L794.0,99.8L794.2,97.4L794.6,97.3L794.7,97.1L795.1,96.6L795.2,97.2L795.7,97.5L795.7,97.2L796.2,95.7L796.2,95.7L796.7,94.5L796.8,93.9L797.2,93.8L797.4,94.9L797.7,93.9L797.9,92.8L798.2,91.6L798.5,92.1L798.7,92.4L799.0,94.5L799.2,93.5L799.6,92.7L799.7,91.3L800.2,90.2L800.2,89.6L800.7,87.3L800.7,87.7L801.2,86.4L801.3,86.0L801.7,83.8L801.9,84.3L802.2,81.9L802.4,81.5L802.7,80.1L803.0,79.7L803.2,78.3L803.5,77.9L803.7,76.1L804.1,71.7L804.2,70.9L804.7,67.4L804.7,67.3L805.2,65.1L805.2,65.7L805.7,65.7L805.8,64.5L806.2,66.1L806.3,66.6L806.7,71.3L806.9,73.3L807.2,70.5L807.5,68.8L807.7,68.3L808.0,66.2L808.2,66.2L808.6,65.5L808.7,65.8L809.2,64.2L809.2,63.9L809.7,61.5L809.7,61.7L810.1,57.6L810.2,59.4L810.5,61.7L810.7,62.4L811.0,63.3L811.2,66.7L811.4,67.9L811.7,70.4L812.0,73.0L812.2,74.0L812.5,76.2L812.7,76.0L813.1,78.5L813.2,79.4L813.7,83.0L813.7,85.6L814.0,94.5L814.2,91.9L814.4,88.3L814.7,84.4L814.9,81.5L815.2,79.6L815.3,78.3L815.7,78.2L815.9,76.5L816.2,75.5L816.5,74.9L816.7,74.0L817.0,73.9L817.2,73.2L817.6,71.4L817.7,69.2L818.1,67.0L818.2,66.2L818.7,65.3L818.7,65.1L819.2,63.7L819.3,64.1L819.7,63.5L819.8,64.5L820.2,64.3L820.4,63.8L820.7,63.1L821.0,63.4L821.2,64.0L821.5,63.8L821.7,64.3L822.1,63.5L822.2,62.9L822.6,62.4" fill="none" stroke="#000000" stroke-width="1.35" stroke-linejoin="round" clip-path="url(#pt)"/>
<path d="M51.0,408.3L51.5,381.0L51.7,363.4L52.0,358.7L52.4,344.0L52.5,343.3L53.0,341.4L53.4,332.3L53.5,331.7L54.0,326.3L54.2,322.9L54.5,319.3L54.9,313.7L55.0,312.2L55.5,320.1L55.7,323.8L56.0,315.0L56.4,307.8L56.5,304.4L57.0,304.0L57.4,302.9L57.5,302.0L58.0,301.0L58.4,298.4L58.5,299.3L59.0,304.9L59.4,308.9L59.5,308.7L60.0,317.9L60.1,320.0L60.5,308.8L60.9,297.4L61.0,292.2L61.5,285.2L61.6,279.3L62.0,289.4L62.3,297.4L62.5,295.4L63.0,291.6L63.1,290.2L63.5,298.7L63.8,302.1L64.0,304.2L64.5,315.5L64.6,318.3L65.0,313.1L65.3,308.7L65.5,310.8L66.0,304.9L66.0,306.9L66.5,310.1L66.8,314.7L67.0,318.4L67.5,309.1L67.5,312.4L68.0,320.9L68.3,330.4L68.5,323.3L69.0,321.2L69.0,318.9L69.5,327.7L69.8,333.5L70.0,338.2L70.5,342.7L70.7,348.7L71.0,353.2L71.5,365.1L71.5,359.8L72.0,371.4L72.2,374.8L72.5,377.9L73.0,387.8L73.0,387.0L73.5,383.1L73.7,376.8L74.0,377.0L74.5,378.5L74.5,377.9L75.0,371.3L75.2,368.0L75.5,373.5L76.0,368.8L76.2,369.1L76.5,365.8L77.0,360.6L77.2,359.1L77.5,355.6L77.9,351.3L78.0,353.3L78.5,366.6L78.7,368.7L79.0,364.8L79.4,362.9L79.5,363.2L80.0,356.2L80.1,358.2L80.5,363.2L80.9,364.9L81.0,363.9L81.5,374.5L81.9,380.4L82.0,377.2L82.5,370.1L82.9,367.9L83.0,369.6L83.5,363.8L83.8,360.1L84.0,359.8L84.5,351.3L84.6,349.7L85.0,354.0L85.5,354.0L85.6,353.9L86.0,350.9L86.5,344.8L86.6,346.8L87.0,350.6L87.5,350.1L87.6,349.0L88.0,346.4L88.5,342.6L88.5,343.2L89.0,338.3L89.5,332.6L89.5,333.5L90.0,323.1L90.3,321.6L90.5,321.5L91.0,318.2L91.0,318.3L91.5,322.6L91.8,327.5L92.0,329.2L92.5,337.3L92.5,338.5L93.0,349.4L93.2,353.3L93.5,349.5L94.0,334.4L94.0,334.9L94.5,330.8L94.7,327.9L95.0,330.0L95.5,343.1L95.5,342.8L96.0,341.7L96.2,339.4L96.5,340.9L96.9,348.0L97.0,349.9L97.5,346.2L97.9,343.7L98.0,343.6L98.5,357.8L98.7,362.0L99.0,354.1L99.4,346.7L99.5,345.0L100.0,337.4L100.2,337.5L100.5,345.0L100.9,351.1L101.0,350.8L101.5,346.9L101.6,343.6L102.0,348.8L102.4,356.9L102.5,352.0L103.0,348.4L103.1,347.1L103.5,353.6L103.9,357.9L104.0,356.9L104.5,345.2L104.6,344.3L105.0,347.9L105.4,349.4L105.5,346.7L106.0,342.3L106.1,343.3L106.5,350.6L106.8,361.6L107.0,362.2L107.5,359.1L107.6,360.9L108.0,364.4L108.3,368.3L108.5,365.5L109.0,369.4L109.1,376.4L109.5,381.7L109.8,383.5L110.0,381.3L110.5,370.7L110.5,372.7L111.0,379.2L111.3,388.0L111.5,392.4L112.0,398.2L112.0,398.8L112.5,398.2L112.8,399.5L113.0,403.8L113.3,409.6L113.5,413.9L114.0,414.0L114.3,418.8L114.5,419.5L115.0,429.9L115.2,431.7L115.5,432.5L116.0,424.3L116.2,420.3L116.5,423.5L117.0,424.5L117.2,426.2L117.5,424.1L118.0,433.9L118.2,434.2L118.5,431.4L119.0,429.3L119.2,430.0L119.5,428.3L120.0,434.9L120.2,436.7L120.5,443.5L121.0,449.1L121.2,456.1L121.5,459.5L122.0,464.4L122.2,463.6L122.5,462.8L123.0,465.8L123.2,466.7L123.5,468.5L124.0,475.0L124.1,481.7L124.5,487.1L124.9,492.7L125.0,493.2L125.5,476.8L125.6,474.4L126.0,471.0L126.5,465.7L126.6,464.7L127.0,459.7L127.5,452.3L127.6,449.8L128.0,441.7L128.3,425.0L128.5,426.0L129.0,421.3L129.3,416.0L129.5,422.3L130.0,436.9L130.1,442.8L130.5,448.7L130.8,456.3L131.0,453.7L131.5,443.6L131.6,440.5L132.0,453.0L132.3,459.5L132.5,452.5L133.0,440.0L133.0,437.4L133.5,439.6L134.0,447.8L134.0,447.3L134.5,439.8L135.0,435.7L135.0,433.5L135.5,433.1L136.0,437.0L136.0,435.8L136.5,424.8L136.8,417.3L137.0,423.1L137.5,430.3L137.5,432.1L138.0,432.5L138.5,437.8L138.5,440.2L139.0,430.5L139.2,422.1L139.5,432.9L140.0,450.3L140.0,449.3L140.5,461.1L141.0,466.2L141.0,466.4L141.5,479.2L141.9,487.9L142.0,490.1L142.5,481.9L142.7,479.9L143.0,483.1L143.4,485.3L143.5,484.9L144.0,478.1L144.4,477.2L144.5,479.2L145.0,483.9L145.2,484.3L145.5,480.2L145.9,473.9L146.0,474.6L146.5,473.5L146.9,472.2L147.0,472.2L147.5,483.2L147.6,482.3L148.0,490.7L148.4,495.5L148.5,493.7L149.0,493.2L149.1,498.3L149.5,493.2L149.9,489.0L150.0,488.8L150.5,490.6L150.8,490.5L151.0,490.8L151.5,491.8L151.8,493.8L152.0,486.7L152.5,483.6L152.6,481.9L153.0,473.3L153.5,467.9L153.6,468.9L154.0,473.0L154.3,474.3L154.5,476.0L155.0,470.1L155.3,466.0L155.5,464.3L156.0,466.0L156.3,463.9L156.5,469.4L157.0,480.6L157.0,479.9L157.5,475.9L157.8,469.4L158.0,468.8L158.5,466.3L158.8,466.1L159.0,461.9L159.5,460.9L159.7,460.6L160.0,457.4L160.5,459.1L160.7,459.6L161.0,460.6L161.5,467.6L161.7,467.9L162.0,470.4L162.5,468.3L162.7,467.9L163.0,467.2L163.5,463.3L163.7,461.3L164.0,461.6L164.5,462.7L164.7,459.5L165.0,460.1L165.5,456.0L165.7,454.7L166.0,453.3L166.5,456.3L166.7,452.0L167.0,456.3L167.5,457.1L167.7,458.9L168.0,456.3L168.5,452.6L168.6,449.9L169.0,450.8L169.5,452.5L169.6,452.7L170.0,449.8L170.4,450.6L170.5,455.0L171.0,459.9L171.1,454.0L171.5,459.2L171.9,462.7L172.0,465.0L172.5,471.4L172.8,473.3L173.0,470.5L173.5,474.9L173.8,477.1L174.0,476.3L174.5,480.4L174.8,481.8L175.0,482.0L175.5,488.2L175.8,491.5L176.0,496.9L176.5,498.8L176.6,499.3L177.0,506.3L177.3,510.7L177.5,512.6L178.0,517.3L178.0,516.9L178.5,514.0L178.8,507.9L179.0,505.9L179.5,512.4L179.5,515.3L180.0,515.2L180.5,518.2L180.5,516.4L181.0,516.6L181.5,521.7L181.5,519.9L182.0,523.8L182.2,526.9L182.5,527.2L183.0,534.5L183.5,545.2L183.5,544.5L184.0,543.8L184.2,546.9L184.5,544.5L185.0,540.4L185.2,535.5L185.5,534.4L186.0,532.5L186.2,532.9L186.5,534.8L187.0,542.7L187.2,543.5L187.5,548.0L188.0,549.6L188.2,549.3L188.5,553.3L189.0,554.9L189.2,556.8L189.5,554.3L189.9,558.4L190.0,560.7L190.5,548.5L190.7,545.3L191.0,543.8L191.5,545.8L191.6,543.4L192.0,546.5L192.4,551.3L192.5,550.1L193.0,541.8L193.1,541.6L193.5,535.4L193.9,528.1L194.0,526.6L194.5,524.3L194.6,523.6L195.0,522.4L195.5,527.6L195.6,528.7L196.0,523.5L196.5,516.5L196.6,516.2L197.0,518.0L197.5,519.6L197.6,523.0L198.0,519.6L198.5,517.8L198.6,518.8L199.0,521.1L199.5,527.3L199.6,529.8L200.0,534.8L200.5,536.4L200.5,534.7L201.0,534.1L201.5,538.2L201.5,538.4L202.0,531.9L202.5,527.1L202.5,524.9L203.0,517.7L203.5,508.7L203.5,509.5L204.0,505.2L204.5,498.2L204.5,499.1L205.0,503.5L205.5,501.5L205.5,504.0L206.0,498.1L206.5,499.7L206.5,498.1L207.0,495.3L207.0,494.1L207.5,502.0L207.7,505.1L208.0,508.4L208.5,524.3L208.5,525.8L209.0,529.5L209.4,539.7L209.5,541.2L210.0,541.9L210.2,546.0L210.5,539.0L210.9,528.9L211.0,528.8L211.5,512.5L211.7,509.2L212.0,509.0L212.5,509.2L212.7,507.4L213.0,511.0L213.4,517.6L213.5,515.1L214.0,533.0L214.1,536.7L214.5,537.4L214.9,543.6L215.0,540.5L215.5,542.6L215.6,548.3L216.0,543.5L216.4,542.1L216.5,540.4L217.0,540.1L217.4,543.1L217.5,546.1L218.0,540.6L218.3,536.5L218.5,534.1L219.0,531.8L219.1,533.9L219.5,541.3L219.8,547.8L220.0,551.0L220.5,553.1L220.8,553.8L221.0,552.8L221.5,551.9L221.8,557.6L222.0,561.6L222.5,569.4L222.5,571.7L223.0,563.2L223.3,562.0L223.5,561.3L224.0,557.4L224.0,557.0L224.5,553.7L224.8,558.1L225.0,555.5L225.5,558.7L225.8,554.4L226.0,551.2L226.5,548.6L226.7,543.6L227.0,545.9L227.5,540.8L227.7,540.4L228.0,539.4L228.5,544.4L228.7,542.6L229.0,545.1L229.5,544.5L229.7,546.6L230.0,545.5L230.5,550.2L230.7,551.8L231.0,552.4L231.5,550.8L231.7,549.9L232.0,554.5L232.5,556.9L232.7,558.1L233.0,552.8L233.5,551.7L233.7,549.0L234.0,550.5L234.5,547.9L234.7,546.0L235.0,547.3L235.5,549.2L235.6,544.7L236.0,541.8L236.5,540.0L236.6,542.3L237.0,541.8L237.5,542.8L237.6,544.7L238.0,546.3L238.5,548.8L238.6,548.8L239.0,548.4L239.5,551.2L239.6,551.8L240.0,554.8L240.5,555.4L240.6,556.8L241.0,558.7L241.5,559.3L241.6,559.7L242.0,562.6L242.5,562.5L242.6,561.8L243.0,561.7L243.5,566.2L243.6,566.5L244.0,566.8L244.5,566.9L244.5,569.2L245.0,576.6L245.5,576.2L245.5,574.3L246.0,576.2L246.5,575.4L246.5,576.4L247.0,573.9L247.5,572.3L247.5,573.9L248.0,577.8L248.5,581.0L248.5,580.7L249.0,583.7L249.5,583.9L249.5,586.7L250.0,587.6L250.5,589.8L250.5,590.7L251.0,588.6L251.5,581.6L251.5,583.4L252.0,581.8L252.5,578.0L252.5,573.2L253.0,577.0L253.4,578.6L253.5,579.5L254.0,578.0L254.4,576.6L254.5,576.9L255.0,576.8L255.4,572.2L255.5,573.3L256.0,572.5L256.4,574.8L256.5,574.1L257.0,574.2L257.4,569.9L257.5,570.6L258.0,569.7L258.4,568.6L258.5,571.2L259.0,569.1L259.4,566.6L259.5,565.3L260.0,568.7L260.4,565.1L260.5,566.1L261.0,562.4L261.4,563.8L261.5,564.5L262.0,561.3L262.3,560.3L262.5,557.0L263.0,561.4L263.3,560.7L263.5,563.2L264.0,563.4L264.3,564.7L264.5,566.1L265.0,568.2L265.3,568.1L265.5,568.6L266.0,571.7L266.3,571.4L266.5,569.0L267.0,571.8L267.3,573.0L267.5,572.4L268.0,575.1L268.3,576.3L268.5,575.0L269.0,569.4L269.3,571.3L269.5,570.5L270.0,568.7L270.3,569.0L270.5,572.0L271.0,564.0L271.2,562.5L271.5,564.0L272.0,560.7L272.2,562.5L272.5,559.9L273.0,559.2L273.2,560.9L273.5,563.9L274.0,565.7L274.2,565.9L274.5,566.4L275.0,567.2L275.2,568.7L275.5,571.8L276.0,572.2L276.2,570.5L276.5,572.1L277.0,575.1L277.2,575.2L277.5,576.0L278.0,577.9L278.2,579.2L278.5,586.0L279.0,585.1L279.2,585.2L279.5,582.8L280.0,588.0L280.1,586.5L280.5,584.9L281.0,586.3L281.1,588.4L281.5,587.2L282.0,585.4L282.1,584.1L282.5,582.3L283.0,586.9L283.1,582.3L283.5,583.5L284.0,586.2L284.1,582.7L284.5,582.7L285.0,580.5L285.1,580.6L285.5,578.4L286.0,577.7L286.1,580.0L286.5,574.8L287.0,575.0L287.1,578.2L287.5,575.6L288.0,574.5L288.1,574.5L288.5,569.9L289.0,569.4L289.0,568.5L289.5,565.3L290.0,565.3L290.0,566.3L290.5,566.1L291.0,566.0L291.0,568.4L291.5,571.2L292.0,570.9L292.0,569.2L292.5,568.1L293.0,569.0L293.0,570.3L293.5,568.7L294.0,568.4L294.0,567.5L294.5,569.6L295.0,570.8L295.0,571.5L295.5,568.7L296.0,566.6L296.0,566.7L296.5,564.9L297.0,567.0L297.0,562.2L297.5,562.6L297.9,567.2L298.0,565.6L298.5,570.1L298.9,575.5L299.0,573.8L299.5,578.8L299.9,578.9L300.0,579.3L300.5,578.2L300.9,583.0L301.0,582.6L301.5,581.8L301.9,585.6L302.0,585.7L302.5,586.6L302.9,586.3L303.0,584.4L303.5,581.4L303.9,583.3L304.0,585.9L304.5,579.7L304.9,574.0L305.0,575.7L305.5,569.7L305.9,570.0L306.0,569.6L306.5,566.7L306.8,568.1L307.0,570.5L307.5,574.4L307.8,579.0L308.0,582.0L308.5,587.2L308.8,586.0L309.0,581.3L309.5,592.1L309.8,591.3L310.0,591.6L310.5,596.8L310.8,598.4L311.0,601.0L311.5,598.3L311.8,600.7L312.0,597.3L312.5,600.1L312.8,596.3L313.0,596.7L313.5,592.9L313.8,585.7L314.0,583.9L314.5,582.3L314.8,579.1L315.0,579.3L315.5,582.4L315.7,582.3L316.0,581.4L316.5,582.7L316.7,584.3L317.0,585.2L317.5,586.2L317.7,585.4L318.0,588.1L318.5,583.0L318.7,581.6L319.0,580.9L319.5,579.7L319.7,579.0L320.0,577.9L320.5,581.1L320.7,582.4L321.0,582.3L321.5,581.4L321.7,579.5L322.0,578.0L322.5,578.9L322.7,573.8L323.0,573.2L323.5,572.3L323.7,569.5L324.0,567.6L324.5,567.2L324.6,571.2L325.0,570.2L325.5,572.9L325.6,574.4L326.0,573.6L326.5,568.3L326.6,569.5L327.0,571.0L327.5,572.5L327.6,574.7L328.0,574.1L328.5,573.3L328.6,571.6L329.0,568.8L329.5,574.5L329.6,573.5L330.0,570.2L330.5,566.8L330.6,571.3L331.0,567.8L331.5,566.3L331.6,569.2L332.0,571.7L332.5,574.9L332.6,573.1L333.0,566.3L333.5,567.6L333.5,570.7L334.0,569.0L334.5,571.6L334.5,570.7L335.0,567.9L335.5,569.7L335.5,569.0L336.0,565.7L336.5,566.3L336.5,562.9L337.0,564.2L337.5,564.3L337.5,560.2L338.0,559.0L338.5,558.4L338.5,558.1L339.0,558.9L339.5,560.5L339.5,562.6L340.0,563.3L340.5,561.6L340.5,566.9L341.0,570.0L341.5,568.6L341.5,570.5L342.0,574.9L342.4,570.7L342.5,570.2L343.0,573.9L343.4,579.2L343.5,578.5L344.0,576.5L344.4,580.8L344.5,579.9L345.0,580.9L345.4,581.0L345.5,579.0L346.0,579.4L346.4,582.0L346.5,581.5L347.0,581.1L347.4,579.0L347.5,585.2L348.0,584.9L348.4,584.5L348.5,584.8L349.0,586.3L349.4,585.1L349.5,584.7L350.0,586.7L350.4,584.2L350.5,584.4L351.0,583.9L351.3,583.4L351.5,588.4L352.0,585.3L352.3,582.0L352.5,579.9L353.0,579.6L353.3,578.6L353.5,578.9L354.0,580.8L354.3,583.5L354.5,585.4L355.0,584.6L355.3,580.6L355.5,585.5L356.0,577.2L356.3,574.2L356.5,574.7L357.0,574.8L357.3,574.0L357.5,572.2L358.0,573.3L358.3,573.1L358.5,572.9L359.0,570.6L359.3,571.2L359.5,571.1L360.0,572.2L360.2,574.1L360.5,569.8L361.0,578.3L361.2,576.6L361.5,577.4L362.0,576.5L362.2,575.7L362.5,573.3L363.0,580.0L363.2,578.5L363.5,578.0L364.0,581.8L364.2,573.7L364.5,575.7L365.0,575.1L365.2,573.9L365.5,580.1L366.0,577.7L366.2,581.2L366.5,579.6L367.0,577.7L367.2,575.7L367.5,576.5L368.0,571.7L368.2,568.1L368.5,563.5L369.0,562.6L369.1,560.6L369.5,562.5L370.0,564.4L370.1,563.7L370.5,558.1L371.0,555.9L371.1,558.9L371.5,556.2L372.0,558.6L372.1,554.2L372.5,554.2L373.0,553.8L373.1,552.0L373.5,550.9L374.0,549.9L374.1,546.9L374.5,544.1L375.0,537.8L375.1,538.5L375.5,534.4L376.0,529.4L376.1,523.5L376.5,524.5L377.0,525.8L377.1,529.1L377.5,531.1L378.0,533.5L378.1,536.3L378.5,536.2L379.0,535.0L379.1,531.8L379.5,537.1L380.0,538.1L380.0,539.8L380.5,538.9L381.0,543.4L381.0,544.0L381.5,544.4L382.0,548.2L382.0,544.6L382.5,540.8L383.0,544.7L383.0,539.9L383.5,537.4L384.0,529.2L384.0,531.6L384.5,527.7L385.0,529.1L385.0,526.8L385.5,528.6L386.0,519.0L386.0,519.7L386.5,513.7L387.0,513.8L387.0,516.6L387.5,520.5L388.0,523.5L388.0,524.7L388.5,524.1L388.9,520.2L389.0,522.0L389.5,514.8L389.9,515.9L390.0,516.9L390.5,508.3L390.9,510.8L391.0,509.4L391.5,509.4L391.9,505.7L392.0,504.5L392.5,500.6L392.9,503.6L393.0,503.2L393.5,502.1L393.9,504.2L394.0,506.9L394.5,505.8L394.9,508.8L395.0,506.0L395.5,502.8L395.9,505.1L396.0,505.0L396.5,508.2L396.9,510.5L397.0,509.9L397.5,511.9L397.8,515.2L398.0,516.2L398.5,516.4L398.8,517.3L399.0,513.1L399.5,517.0L399.8,519.2L400.0,518.7L400.5,521.3L400.8,518.3L401.0,519.4L401.5,513.8L401.8,511.9L402.0,510.1L402.5,510.0L402.8,506.8L403.0,502.3L403.5,505.6L403.8,505.7L404.0,506.7L404.5,505.9L404.8,502.7L405.0,502.6L405.5,501.1L405.8,499.7L406.0,498.9L406.5,497.0L406.7,494.5L407.0,492.6L407.5,491.3L407.7,486.8L408.0,484.5L408.5,477.8L408.5,478.8L409.0,473.5L409.3,471.6L409.5,475.5L410.0,475.3L410.3,477.4L410.5,477.3L411.0,472.4L411.3,466.6L411.5,467.9L412.0,470.4L412.3,470.7L412.5,470.4L413.0,471.3L413.3,466.1L413.5,464.7L414.0,466.4L414.3,462.9L414.5,460.1L415.0,460.4L415.3,460.0L415.5,462.9L416.0,463.6L416.3,464.0L416.5,463.2L417.0,456.2L417.2,456.4L417.5,455.0L418.0,448.8L418.2,442.9L418.5,442.4L419.0,437.2L419.2,436.6L419.5,437.4L420.0,430.1L420.2,426.6L420.5,424.0L421.0,418.0L421.2,418.8L421.5,421.9L421.9,423.3L422.0,421.8L422.5,424.2L422.7,427.2L423.0,417.6L423.5,414.2L423.7,408.9L424.0,408.8L424.4,408.8L424.5,407.9L425.0,417.2L425.2,420.3L425.5,425.7L426.0,425.9L426.1,426.5L426.5,430.2L427.0,433.2L427.1,435.3L427.5,437.4L428.0,443.1L428.1,445.0L428.5,446.4L429.0,443.8L429.1,440.9L429.5,448.4L430.0,453.6L430.1,454.2L430.5,457.1L431.0,465.9L431.1,467.1L431.5,470.3L432.0,471.3L432.1,473.0L432.5,477.3L432.8,481.9L433.0,479.3L433.5,471.0L433.6,466.4L434.0,462.8L434.5,459.2L434.5,458.6L435.0,450.1L435.5,440.1L435.5,442.2L436.0,444.2L436.5,438.6L436.5,440.0L437.0,439.7L437.5,441.9L437.5,443.9L438.0,447.7L438.5,452.5L438.5,450.3L439.0,450.3L439.5,455.7L439.5,456.5L440.0,456.3L440.5,447.8L440.5,446.5L441.0,450.3L441.5,444.4L441.5,447.2L442.0,449.7L442.5,441.9L442.5,442.0L443.0,437.8L443.4,433.8L443.5,433.6L444.0,430.2L444.4,432.5L444.5,434.2L445.0,436.7L445.4,436.5L445.5,432.7L446.0,436.0L446.4,438.3L446.5,439.7L447.0,438.8L447.4,443.3L447.5,443.2L448.0,439.5L448.4,434.7L448.5,431.2L449.0,425.9L449.4,424.8L449.5,426.6L450.0,423.3L450.4,426.2L450.5,426.2L451.0,429.4L451.4,431.4L451.5,435.8L452.0,439.2L452.3,442.0L452.5,440.4L453.0,440.3L453.3,444.2L453.5,446.2L454.0,457.1L454.3,458.9L454.5,460.7L455.0,472.2L455.3,477.5L455.5,475.1L456.0,476.2L456.3,472.4L456.5,473.6L457.0,471.4L457.3,470.1L457.5,467.7L458.0,463.6L458.3,462.6L458.5,466.4L459.0,474.9L459.3,480.1L459.5,481.5L460.0,484.3L460.5,481.7L461.0,486.5L461.1,490.3L461.5,491.0L462.0,495.4L462.4,499.8L462.5,499.9L463.0,503.9L463.5,505.6L463.6,504.8L464.0,506.1L464.5,502.5L464.6,501.6L465.0,504.3L465.5,508.0L465.6,507.2L466.0,507.8L466.5,512.0L466.6,514.6L467.0,518.9L467.5,525.4L467.6,522.4L468.0,524.8L468.5,524.2L468.6,530.0L469.0,529.7L469.5,525.6L469.5,524.0L470.0,515.5L470.5,517.3L470.5,516.4L471.0,521.9L471.5,524.1L471.5,523.4L472.0,521.6L472.5,522.4L472.5,518.7L473.0,523.7L473.5,523.8L473.5,522.3L474.0,524.7L474.5,526.8L474.5,529.4L475.0,531.5L475.5,533.6L475.5,536.2L476.0,539.5L476.5,544.3L476.5,545.7L477.0,542.3L477.5,535.1L477.5,538.3L478.0,529.1L478.4,531.4L478.5,533.6L479.0,533.5L479.4,538.9L479.5,539.6L480.0,538.8L480.4,543.4L480.5,545.1L481.0,546.5L481.4,550.4L481.5,555.4L482.0,553.6L482.4,553.4L482.5,553.2L483.0,549.9L483.4,547.9L483.5,547.7L484.0,550.6L484.4,553.7L484.5,555.3L485.0,553.9L485.4,549.9L485.5,548.4L486.0,547.0L486.4,544.4L486.5,545.2L487.0,544.7L487.3,545.2L487.5,548.5L488.0,550.5L488.3,553.6L488.5,554.4L489.0,557.1L489.3,558.8L489.5,562.8L490.0,563.5L490.3,564.4L490.5,562.0L491.0,561.7L491.3,561.9L491.5,562.5L492.0,565.6L492.3,565.8L492.5,567.2L493.0,566.2L493.3,568.4L493.5,567.4L494.0,570.5L494.3,572.4L494.5,571.2L495.0,564.7L495.3,564.0L495.5,564.0L496.0,559.1L496.2,554.8L496.5,551.2L497.0,548.8L497.2,548.4L497.5,546.5L498.0,545.6L498.2,544.3L498.5,542.0L499.0,540.6L499.2,537.6L499.5,538.7L500.0,542.7L500.2,543.1L500.5,543.0L501.0,544.4L501.2,547.9L501.5,548.6L502.0,550.5L502.2,551.9L502.5,554.0L503.0,553.5L503.2,557.9L503.5,561.2L504.0,557.2L504.2,558.4L504.5,558.3L505.0,561.1L505.1,562.1L505.5,559.5L506.0,550.2L506.1,555.9L506.5,556.4L507.0,554.7L507.1,551.4L507.5,550.8L508.0,551.5L508.1,549.1L508.5,550.6L509.0,547.9L509.1,548.2L509.5,546.1L510.0,545.9L510.1,540.9L510.5,539.4L511.0,532.4L511.1,529.3L511.5,526.4L511.8,519.6L512.0,522.3L512.5,526.4L512.6,525.7L513.0,534.1L513.5,538.1L513.5,537.0L514.0,535.7L514.5,531.1L514.5,529.9L515.0,528.7L515.5,524.6L515.5,526.8L516.0,526.6L516.5,530.3L516.5,531.5L517.0,531.6L517.5,531.6L517.5,534.2L518.0,531.3L518.5,531.2L518.5,529.1L519.0,532.6L519.5,531.7L519.5,531.6L520.0,531.5L520.5,534.2L520.5,537.1L521.0,539.1L521.5,541.7L521.5,540.6L522.0,547.2L522.4,547.0L522.5,549.4L523.0,548.7L523.4,550.1L523.5,547.5L524.0,540.7L524.4,539.9L524.5,538.9L525.0,537.1L525.4,535.2L525.5,536.2L526.0,532.8L526.4,528.6L526.5,527.5L527.0,530.3L527.4,532.4L527.5,533.0L528.0,530.2L528.4,526.5L528.5,526.2L529.0,525.9L529.4,521.5L529.5,521.2L530.0,527.9L530.4,530.9L530.5,531.8L531.0,532.3L531.3,532.4L531.5,532.5L532.0,532.0L532.3,534.3L532.5,536.1L533.0,537.3L533.3,538.1L533.5,536.2L534.0,536.3L534.3,541.3L534.5,544.3L535.0,543.4L535.3,546.7L535.5,544.9L536.0,547.7L536.3,549.4L536.5,550.5L537.0,544.5L537.3,543.1L537.5,544.8L538.0,544.5L538.3,546.6L538.5,544.2L539.0,544.6L539.3,544.3L539.5,547.8L540.0,551.4L540.2,549.9L540.5,549.7L541.0,546.8L541.2,550.0L541.5,549.9L542.0,556.8L542.2,555.3L542.5,555.6L543.0,560.5L543.2,562.1L543.5,561.8L544.0,556.3L544.2,556.1L544.5,557.7L545.0,556.7L545.2,554.1L545.5,557.8L546.0,552.4L546.2,549.1L546.5,550.3L547.0,549.5L547.2,546.9L547.5,549.9L548.0,548.2L548.2,544.7L548.5,545.7L549.0,545.2L549.1,543.0L549.5,543.4L550.0,539.3L550.1,539.1L550.5,539.7L551.0,535.0L551.1,536.3L551.5,532.7L552.0,533.4L552.1,531.5L552.5,533.7L553.0,531.9L553.1,526.9L553.5,526.4L554.0,524.2L554.1,524.4L554.5,526.3L555.0,529.1L555.1,528.0L555.5,530.8L556.0,523.7L556.1,524.0L556.5,522.8L557.0,521.4L557.1,522.0L557.5,522.4L558.0,519.2L558.0,519.0L558.5,522.5L559.0,518.9L559.0,518.0L559.5,515.6L560.0,517.4L560.5,518.0L560.8,514.8L561.0,512.6L561.5,513.3L561.8,511.4L562.0,510.8L562.5,516.4L562.7,519.7L563.0,520.3L563.5,522.7L563.7,524.8L564.0,524.4L564.5,528.5L564.7,529.9L565.0,531.8L565.5,532.9L565.7,531.1L566.0,530.3L566.5,529.6L566.7,530.9L567.0,528.2L567.5,532.7L567.7,532.8L568.0,534.8L568.5,534.2L568.7,535.3L569.0,537.7L569.5,540.5L569.7,536.3L570.0,537.4L570.5,534.6L570.7,538.5L571.0,538.0L571.5,542.0L571.6,541.6L572.0,542.6L572.5,541.4L572.6,543.5L573.0,541.8L573.5,544.3L573.6,543.9L574.0,545.2L574.5,548.5L574.6,549.0L575.0,551.1L575.5,549.7L575.6,546.5L576.0,550.0L576.5,547.6L576.6,547.0L577.0,542.1L577.5,542.3L577.6,544.8L578.0,539.1L578.5,539.4L578.6,539.0L579.0,537.3L579.5,537.3L579.6,536.7L580.0,529.3L580.5,524.4L580.5,522.7L581.0,527.6L581.3,527.0L581.5,531.8L582.0,536.8L582.0,540.5L582.5,543.4L583.0,543.2L583.0,542.0L583.5,546.1L584.0,547.6L584.0,548.8L584.5,550.7L585.0,554.4L585.0,555.3L585.5,559.8L586.0,560.4L586.0,559.6L586.5,563.7L587.0,567.8L587.0,567.3L587.5,560.1L588.0,557.5L588.0,557.7L588.5,559.5L588.9,561.6L589.0,564.0L589.5,562.3L589.9,559.0L590.0,558.3L590.5,563.4L590.9,569.2L591.0,567.6L591.5,570.6L591.9,578.1L592.0,580.3L592.5,580.4L592.9,577.1L593.0,572.7L593.5,573.5L593.9,574.2L594.0,576.0L594.5,575.5L594.9,568.6L595.0,569.2L595.5,564.3L595.9,565.8L596.0,564.9L596.5,566.2L596.9,564.1L597.0,560.3L597.5,561.8L597.8,562.8L598.0,565.6L598.5,561.3L598.8,560.6L599.0,559.4L599.5,562.2L599.8,560.1L600.0,560.1L600.5,560.3L600.8,558.3L601.0,561.1L601.5,557.7L601.8,562.6L602.0,560.7L602.5,558.5L602.8,559.3L603.0,557.7L603.5,559.9L603.8,562.8L604.0,560.4L604.5,561.7L604.8,562.7L605.0,562.2L605.5,565.3L605.8,565.6L606.0,566.8L606.5,567.4L606.7,567.8L607.0,569.3L607.5,571.9L607.7,573.1L608.0,573.7L608.5,576.5L608.7,575.3L609.0,575.1L609.5,578.8L609.7,578.8L610.0,581.0L610.5,586.1L610.7,580.8L611.0,583.6L611.5,586.2L611.7,589.7L612.0,592.0L612.5,590.1L612.7,594.1L613.0,595.4L613.5,596.9L613.7,598.4L614.0,600.3L614.5,600.8L614.7,602.9L615.0,606.6L615.5,604.0L615.6,605.2L616.0,605.4L616.5,600.1L616.6,600.5L617.0,597.2L617.5,588.8L617.6,588.1L618.0,585.9L618.5,586.4L618.6,587.4L619.0,588.7L619.5,591.0L619.6,591.4L620.0,592.1L620.5,587.2L620.6,588.5L621.0,592.7L621.5,591.2L621.6,590.9L622.0,591.4L622.5,590.6L622.6,592.5L623.0,592.9L623.5,593.1L623.6,594.1L624.0,595.4L624.5,589.2L624.5,590.4L625.0,591.5L625.5,591.2L625.5,594.9L626.0,599.8L626.5,598.9L626.5,597.4L627.0,594.1L627.5,596.5L627.5,597.1L628.0,598.5L628.5,597.2L628.5,597.1L629.0,596.9L629.5,596.7L629.5,596.3L630.0,599.4L630.5,599.1L630.5,595.0L631.0,596.6L631.5,594.3L631.5,592.3L632.0,594.8L632.5,596.9L632.5,596.8L633.0,601.0L633.4,600.0L633.5,601.6L634.0,604.3L634.4,601.5L634.5,604.5L635.0,599.5L635.4,597.7L635.5,599.7L636.0,596.8L636.4,593.2L636.5,592.1L637.0,594.1L637.4,591.9L637.5,590.8L638.0,590.5L638.4,589.7L638.5,588.6L639.0,589.6L639.4,593.6L639.5,596.6L640.0,591.9L640.4,598.2L640.5,600.0L641.0,594.9L641.4,595.8L641.5,592.2L642.0,595.3L642.3,595.0L642.5,597.7L643.0,588.5L643.3,591.8L643.5,589.7L644.0,591.6L644.3,592.2L644.5,592.6L645.0,594.2L645.3,588.9L645.5,586.9L646.0,586.3L646.3,587.7L646.5,589.9L647.0,585.6L647.3,585.2L647.5,586.6L648.0,581.1L648.3,582.6L648.5,579.4L649.0,576.6L649.3,576.6L649.5,576.4L650.0,577.9L650.3,578.0L650.5,580.4L651.0,585.6L651.2,584.6L651.5,583.2L652.0,589.1L652.2,592.4L652.5,588.9L653.0,586.8L653.2,585.2L653.5,583.6L654.0,581.6L654.2,582.2L654.5,584.2L655.0,585.4L655.2,584.2L655.5,583.2L656.0,585.4L656.2,587.3L656.5,585.9L657.0,582.1L657.2,581.4L657.5,577.4L658.0,575.8L658.2,576.8L658.5,575.8L659.0,575.3L659.2,575.4L659.5,575.0L660.0,578.4L660.1,574.7L660.5,570.5L661.0,572.4L661.1,571.7L661.5,572.7L662.0,572.9L662.1,571.7L662.5,571.2L663.0,565.9L663.1,569.8L663.5,572.3L664.0,574.4L664.1,571.8L664.5,571.3L665.0,572.3L665.1,570.9L665.5,573.9L666.0,572.6L666.1,573.1L666.5,575.0L667.0,574.2L667.1,576.7L667.5,574.8L668.0,579.7L668.1,576.6L668.5,577.1L669.0,575.3L669.0,574.0L669.5,573.9L670.0,571.8L670.0,575.2L670.5,574.9L671.0,576.8L671.0,578.5L671.5,572.4L672.0,570.2L672.0,572.7L672.5,570.3L673.0,571.6L673.0,572.4L673.5,571.0L674.0,570.7L674.0,569.0L674.5,570.7L675.0,575.1L675.0,571.9L675.5,572.3L676.0,570.7L676.0,569.6L676.5,571.4L677.0,568.9L677.0,572.0L677.5,568.7L677.9,571.5L678.0,575.0L678.5,571.7L678.9,572.8L679.0,575.9L679.5,575.1L679.9,573.3L680.0,572.9L680.5,576.8L680.9,578.2L681.0,577.8L681.5,581.4L681.9,582.6L682.0,586.6L682.5,585.3L682.9,587.3L683.0,587.3L683.5,588.2L683.9,583.7L684.0,587.8L684.5,587.4L684.9,582.4L685.0,579.5L685.5,579.4L685.9,583.0L686.0,583.3L686.5,582.0L686.8,579.9L687.0,579.7L687.5,574.8L687.8,571.7L688.0,567.0L688.5,571.0L688.8,567.7L689.0,564.1L689.5,566.7L689.8,569.3L690.0,566.8L690.5,567.9L690.8,568.7L691.0,569.7L691.5,568.4L691.8,566.0L692.0,566.1L692.5,568.2L692.8,565.2L693.0,564.2L693.5,558.0L693.8,561.1L694.0,564.0L694.5,559.0L694.8,554.1L695.0,556.5L695.5,556.6L695.7,554.3L696.0,552.0L696.5,551.7L696.7,555.5L697.0,555.7L697.5,553.9L697.7,550.4L698.0,552.7L698.5,556.8L698.7,554.3L699.0,558.4L699.5,552.9L699.7,549.5L700.0,552.9L700.5,551.5L700.7,546.3L701.0,544.5L701.5,550.0L701.7,551.0L702.0,554.2L702.5,553.9L702.7,550.6L703.0,549.2L703.5,547.8L703.7,548.4L704.0,549.1L704.5,553.2L704.6,553.1L705.0,552.7L705.5,548.5L705.6,546.0L706.0,541.7L706.5,545.9L706.6,549.7L707.0,552.9L707.5,551.7L707.6,554.3L708.0,556.1L708.5,557.8L708.6,557.5L709.0,557.3L709.5,558.1L709.6,553.9L710.0,557.4L710.5,554.0L710.6,555.8L711.0,557.4L711.5,559.0L711.6,557.6L712.0,563.0L712.0,564.4L712.5,559.9L712.8,563.3L713.0,567.6L713.5,563.2L713.5,564.8L713.8,565.5L714.0,564.4L714.5,561.5L714.6,561.3L715.0,556.7L715.3,557.9L715.5,554.5L716.0,556.4L716.0,557.8L716.5,553.7L716.7,553.9L717.0,552.5L717.4,552.5L717.5,549.3L718.0,543.4L718.0,543.9L718.5,554.7L718.5,555.3L719.0,558.1L719.2,562.9L719.5,559.7L720.0,557.8L720.0,555.4L720.5,557.3L720.7,557.6L721.0,555.7L721.4,553.2L721.5,551.3L722.0,550.4L722.1,549.9L722.5,546.6L722.8,542.1L723.0,546.1L723.5,541.4L723.6,536.7L724.0,534.7L724.3,534.5L724.5,533.9L725.0,532.0L725.0,533.0L725.5,530.4L725.7,528.0L726.0,527.7L726.4,526.3L726.5,524.6L727.0,531.2L727.2,531.4L727.5,528.9L727.9,529.3L728.0,525.7L728.5,521.9L728.6,523.6L729.0,524.0L729.3,519.7L729.5,520.5L730.0,522.9L730.0,521.5L730.5,523.1L730.8,523.5L731.0,521.3L731.5,523.4L731.5,520.3L732.0,519.3L732.2,518.9L732.5,519.6L732.9,515.2L733.0,516.4L733.5,517.7L733.6,517.0L734.0,514.1L734.4,512.4L734.5,514.7L735.0,511.2L735.1,513.3L735.5,515.2L735.8,509.8L736.0,507.1L736.5,504.6L736.5,506.3L737.0,508.8L737.2,505.8L737.5,502.8L738.0,501.8L738.0,502.5L738.5,506.0L738.7,507.5L739.0,510.0L739.4,511.8L739.5,513.1L740.0,529.2L740.1,528.1L740.5,531.2L740.8,529.7L741.0,530.0L741.5,532.5L741.6,533.1L742.0,536.2L742.3,536.3L742.5,541.1L743.0,538.4L743.0,539.9L743.5,545.6L743.7,546.8L744.0,552.0L744.4,553.7L744.5,553.8L745.0,553.7L745.2,550.9L745.5,549.8L745.9,548.5L746.0,545.5L746.5,546.4L746.6,544.1L747.0,546.2L747.3,543.6L747.5,545.4L748.0,543.9L748.0,541.9L748.5,540.6L748.8,538.4L749.0,535.2L749.5,537.1L749.5,534.0L750.0,529.5L750.2,529.3L750.5,528.8L750.9,526.7L751.0,524.6L751.5,522.2L751.6,522.7L752.0,522.9L752.4,523.3L752.5,525.6L753.0,529.8L753.1,527.4L753.5,528.7L753.8,532.1L754.0,533.2L754.5,537.7L754.5,538.4L755.0,544.7L755.2,543.7L755.5,546.7L756.0,554.8L756.0,554.8L756.5,558.6L756.7,557.5L757.0,552.0L757.4,550.4L757.5,549.8L758.0,549.2L758.1,547.6L758.5,542.4L758.8,545.7L759.0,546.5L759.5,542.8L759.6,546.9L760.0,546.5L760.3,542.4L760.5,543.5L761.0,546.9L761.0,544.1L761.5,545.5L761.7,544.4L762.0,545.2L762.4,542.0L762.5,540.9L763.0,546.6L763.2,541.6L763.5,543.3L763.9,541.5L764.0,538.2L764.5,540.8L764.6,541.5L765.0,542.5L765.3,544.6L765.5,542.6L766.0,546.6L766.0,547.3L766.5,550.9L766.8,552.0L767.0,551.8L767.5,559.2L767.5,556.7L768.0,555.6L768.2,558.1L768.5,559.6L768.9,564.1L769.0,562.3L769.5,569.5L769.6,567.5L770.0,571.2L770.4,565.5L770.5,570.1L771.0,569.4L771.1,568.5L771.5,569.5L771.8,568.8L772.0,566.5L772.5,566.7L772.5,566.7L773.0,567.7L773.2,568.8L773.5,570.0L774.0,567.8L774.0,567.3L774.5,566.3L774.7,571.4L775.0,570.6L775.4,572.4L775.5,573.7L776.0,574.4L776.1,574.7L776.5,574.1L776.8,571.3L777.0,572.2L777.5,567.8L777.6,568.0L778.0,567.1L778.3,565.4L778.5,567.5L779.0,563.3L779.0,563.0L779.5,565.3L779.7,564.7L780.0,566.1L780.4,562.9L780.5,560.8L781.0,560.5L781.2,562.2L781.5,561.3L781.9,560.0L782.0,559.9L782.5,560.7L782.6,558.0L783.0,558.5L783.3,558.9L783.5,557.8L784.0,561.2L784.0,559.9L784.5,561.2L784.8,562.3L785.0,564.3L785.5,567.0L785.5,566.4L786.0,567.2L786.2,567.1L786.5,570.2L786.9,572.4L787.0,570.9L787.5,567.0L787.6,566.4L788.0,563.7L788.4,563.6L788.5,563.4L789.0,567.8L789.1,567.6L789.5,572.0L789.8,568.9L790.0,568.5L790.5,569.2L790.5,572.6L791.0,571.9L791.2,571.7L791.5,574.5L792.0,575.8L792.0,573.1L792.5,582.4L792.7,580.4L793.0,576.2L793.4,575.3L793.5,575.3L794.0,571.5L794.1,572.9L794.5,573.3L794.8,570.1L795.0,570.1L795.5,574.5L795.6,570.8L796.0,571.5L796.3,573.2L796.5,570.5L797.0,572.0L797.0,571.5L797.5,572.3L797.7,569.8L798.0,575.1L798.4,572.3L798.5,571.5L799.0,568.8L799.2,569.1L799.5,568.9L799.9,564.9L800.0,567.0L800.5,567.0L800.6,564.3L801.0,560.5L801.3,562.3L801.5,562.8L802.0,558.8L802.0,559.5L802.5,556.5L802.8,555.3L803.0,555.9L803.5,557.1L803.5,555.4L804.0,551.4L804.2,551.1L804.5,550.4L804.9,551.0L805.0,550.3L805.5,556.2L805.6,556.5L806.0,561.6L806.3,561.7L806.5,563.2L807.0,563.2L807.1,564.3L807.5,562.3L807.8,565.3L808.0,568.2L808.5,569.4L808.5,566.8L809.0,574.7L809.2,572.0L809.5,572.5L809.9,574.4L810.0,572.7L810.5,578.6L810.7,577.8L811.0,582.0L811.4,579.7L811.5,576.4L812.0,577.3L812.1,581.7L812.5,582.0L812.8,584.1L813.0,581.7L813.5,588.4L813.5,588.4L814.0,593.4L814.3,597.2L814.5,593.8L815.0,589.7L815.0,591.7L815.5,585.9L815.7,586.5L816.0,585.6L816.4,590.3L816.5,588.8L817.0,586.6L817.1,585.0L817.5,589.1L817.9,588.6L818.0,588.7L818.5,591.7L818.6,590.2L819.0,590.8L819.3,594.0L819.5,595.2L820.0,603.8L820.0,602.9L820.5,596.6L820.7,598.1L821.0,595.2L821.5,592.5L821.5,593.9L822.0,598.8L822.2,598.9L822.5,598.0L822.7,596.2" fill="none" stroke="#0000ff" stroke-width="1.6" stroke-linejoin="round" clip-path="url(#pb)"/>
<path d="M50.5,35.5H825.5V615.5H50.5Z M50.5,235.5H825.5" stroke="#000" stroke-width="1" fill="none"/>
<path d="M46,223.5H50M46,198.5H50M46,173.5H50M46,148.5H50M46,122.5H50M46,97.5H50M46,72.5H50M46,47.5H50M826,223.5H830M826,194.5H830M826,164.5H830M826,135.5H830M826,106.5H830M826,76.5H830M826,47.5H830M826,615.5H830M826,587.5H830M826,559.5H830M826,531.5H830M826,503.5H830M826,475.5H830M826,447.5H830M826,418.5H830M826,390.5H830M826,362.5H830M826,334.5H830M826,306.5H830M826,278.5H830M826,250.5H830M77.5,616V620M112.5,616V620M147.5,616V620M182.5,616V620M218.5,616V620M253.5,616V620M288.5,616V620M323.5,616V620M358.5,616V620M394.5,616V620M429.5,616V620M464.5,616V620M499.5,616V620M534.5,616V620M570.5,616V620M605.5,616V620M641.5,616V620M676.5,616V620M711.5,616V620M746.5,616V620M782.5,616V620M817.5,616V620" stroke="#000" stroke-width="1" fill="none"/>
<g font-family="'Liberation Sans', sans-serif" font-size="11" fill="#000"><text x="44" y="226.6" text-anchor="end">50</text><text x="44" y="201.5" text-anchor="end">100</text><text x="44" y="176.3" text-anchor="end">150</text><text x="44" y="151.2" text-anchor="end">200</text><text x="44" y="126.1" text-anchor="end">250</text><text x="44" y="101.0" text-anchor="end">300</text><text x="44" y="75.8" text-anchor="end">350</text><text x="44" y="50.7" text-anchor="end">400</text><text x="833" y="226.5">0</text><text x="833" y="197.2">1000</text><text x="833" y="167.9">2000</text><text x="833" y="138.6">3000</text><text x="833" y="109.3">4000</text><text x="833" y="80.0">5000</text><text x="833" y="50.7">6000</text><text x="833" y="618.7">0.06</text><text x="833" y="590.7">0.08</text><text x="833" y="562.6">0.10</text><text x="833" y="534.5">0.12</text><text x="833" y="506.4">0.14</text><text x="833" y="478.4">0.16</text><text x="833" y="450.3">0.18</text><text x="833" y="422.2">0.20</text><text x="833" y="394.2">0.22</text><text x="833" y="366.1">0.24</text><text x="833" y="338.0">0.26</text><text x="833" y="309.9">0.28</text><text x="833" y="281.9">0.30</text><text x="833" y="253.8">0.32</text><text x="77.8" y="631.4" text-anchor="middle">2005</text><text x="182.8" y="631.4" text-anchor="middle">2008</text><text x="288.8" y="631.4" text-anchor="middle">2011</text><text x="394.8" y="631.4" text-anchor="middle">2014</text><text x="499.8" y="631.4" text-anchor="middle">2017</text><text x="605.8" y="631.4" text-anchor="middle">2020</text><text x="711.8" y="631.4" text-anchor="middle">2023</text><text x="817.8" y="631.4" text-anchor="middle">2026</text></g>
<g font-family="'Liberation Sans', sans-serif" font-size="10.6" fill="#000">
<text x="56.6" y="46" textLength="72.6" lengthAdjust="spacingAndGlyphs">Close = 368.03</text>
<text x="412.5" y="46" xml:space="preserve" textLength="65" lengthAdjust="spacingAndGlyphs">Feb-20  2026</text>
<text x="746.6" y="46" textLength="73" lengthAdjust="spacingAndGlyphs">Close = 5106.9</text>
<text x="72.5" y="233.5" textLength="64.8" lengthAdjust="spacingAndGlyphs">Feeder Cattle</text>
<text x="760.6" y="233.5" textLength="22.6" lengthAdjust="spacingAndGlyphs">Gold</text>
<text x="746.5" y="246.5" textLength="67" lengthAdjust="spacingAndGlyphs">Close = 0.072</text>
<text x="358" y="643" font-size="11.3" textLength="223" lengthAdjust="spacingAndGlyphs">world gold charts © www.goldchartsrus.com</text>
</g>
<text x="373.6" y="250.7" font-family="'Liberation Sans', sans-serif" font-size="15.4" xml:space="preserve" textLength="191.5" lengthAdjust="spacingAndGlyphs">Feeder Cattle  /  Gold Ratio</text>
<text transform="translate(18.1,135.7) rotate(-90)" text-anchor="middle" font-family="'Liberation Sans', sans-serif" font-size="13.6" textLength="78.8" lengthAdjust="spacingAndGlyphs">Feeder Cattle</text>
<text transform="translate(875.3,135.2) rotate(-90)" text-anchor="middle" font-family="'Liberation Sans', sans-serif" font-size="13.5" textLength="26.5" lengthAdjust="spacingAndGlyphs">Gold</text>
<text transform="translate(872.3,425.2) rotate(-90)" text-anchor="middle" font-family="'Liberation Sans', sans-serif" font-size="13.5" textLength="151.5" lengthAdjust="spacingAndGlyphs">Feeder Cattle / Gold Ratio</text>
<rect x="58.5" y="226.5" width="7" height="7" fill="#000" stroke="#000"/>
<rect x="746.5" y="226.5" width="7" height="7" fill="#ffb400" stroke="#000"/>

</svg>
</body></html>
